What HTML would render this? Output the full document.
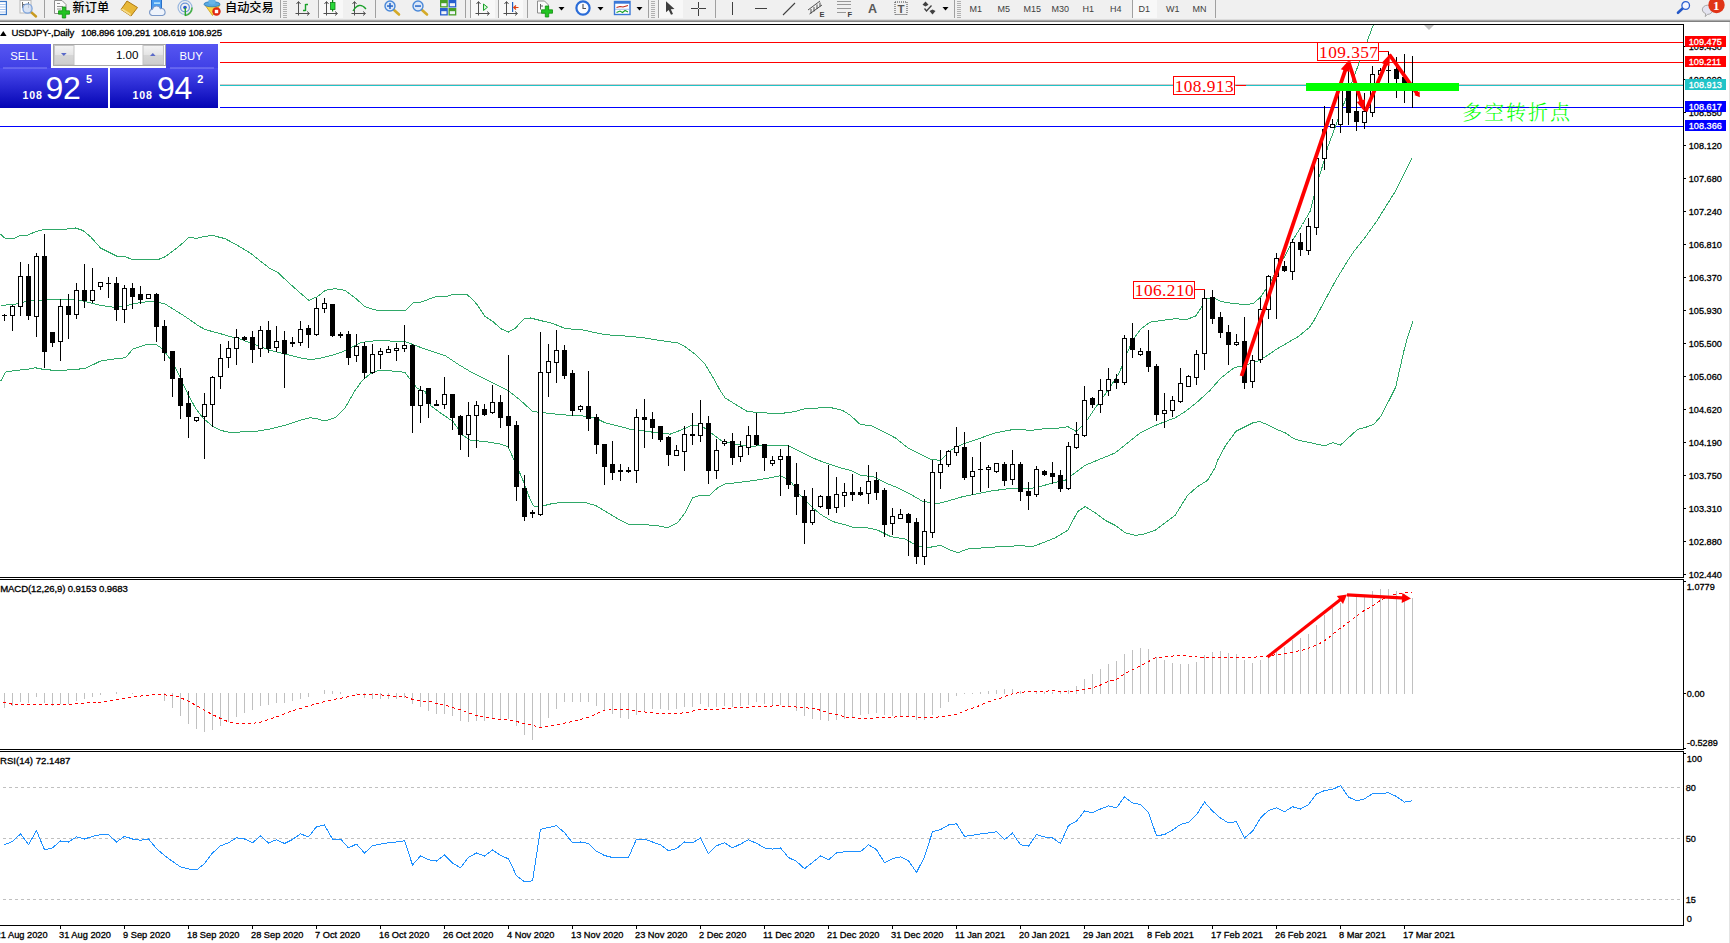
<!DOCTYPE html>
<html><head><meta charset="utf-8"><title>USDJPY Daily</title>
<style>html,body{margin:0;padding:0;background:#fff;overflow:hidden}svg{display:block}text{white-space:pre}</style>
</head><body>
<svg width="1730" height="943" viewBox="0 0 1730 943">
<rect x="0" y="0" width="1730" height="943" fill="#fff"/>
<rect x="0" y="0" width="1730" height="19" fill="#f0f0f0"/>
<rect x="0" y="19" width="1730" height="1" fill="#dcdcdc"/>
<rect x="0" y="20" width="1730" height="1" fill="#a8a8a8"/>
<rect x="0" y="21" width="1730" height="1" fill="#808080"/>
<rect x="1729" y="22" width="1" height="921" fill="#e4e4e4"/>
<g shape-rendering="crispEdges">
<rect x="0" y="24" width="1684" height="1" fill="#000"/>
<rect x="1683" y="24" width="1" height="902" fill="#000"/>
<rect x="0" y="577" width="1684" height="1" fill="#000"/>
<rect x="0" y="579" width="1684" height="1" fill="#000"/>
<rect x="0" y="749" width="1684" height="1" fill="#000"/>
<rect x="0" y="751" width="1684" height="1" fill="#000"/>
<rect x="0" y="925" width="1684" height="1" fill="#000"/>
<rect x="1683" y="578" width="1" height="1" fill="#fff"/>
<rect x="1683" y="750" width="1" height="1" fill="#fff"/>
<line x1="3" y1="787.5" x2="1681" y2="787.5" stroke="#c0c0c0" stroke-width="1" stroke-dasharray="3 3"/>
<line x1="3" y1="838.5" x2="1681" y2="838.5" stroke="#c0c0c0" stroke-width="1" stroke-dasharray="3 3"/>
<line x1="3" y1="899.5" x2="1681" y2="899.5" stroke="#c0c0c0" stroke-width="1" stroke-dasharray="3 3"/>
<rect x="0" y="42" width="1683" height="1" fill="#ff0000"/>
<rect x="0" y="62" width="1683" height="1" fill="#ff0000"/>
<rect x="0" y="84" width="1683" height="1" fill="#d8c8c8"/>
<rect x="0" y="85" width="1683" height="1" fill="#20c4c8"/>
<rect x="0" y="107" width="1683" height="1" fill="#0000ff"/>
<rect x="0" y="126" width="1683" height="1" fill="#0000ff"/>
<polyline points="0.5,234.2 5.5,238.7 13.0,238.7 20.5,235.5 28.0,235.0 35.5,231.7 42.9,229.7 52.9,229.2 65.5,229.2 75.5,228.0 82.9,230.5 90.5,236.7 100.5,248.0 110.5,253.0 117.9,256.7 125.5,256.7 132.8,259.9 145.5,259.9 157.8,259.7 165.3,256.7 175.3,249.2 182.8,243.0 189.0,237.2 196.5,238.5 202.7,236.7 212.7,235.5 225.2,238.7 237.7,245.5 250.2,253.0 262.7,262.9 270.2,268.7 277.7,272.4 287.6,281.7 300.1,292.9 308.9,300.4 317.6,296.6 325.1,290.4 335.1,288.7 345.1,290.4 355.1,297.9 365.0,306.6 375.0,309.9 385.0,310.9 405.2,311.0 412.9,303.0 421.8,301.9 434.7,297.0 446.0,296.8 450.9,295.0 456.6,294.6 462.2,294.0 467.5,295.0 472.8,299.6 477.6,305.3 484.9,316.2 493.8,322.3 501.1,328.8 508.4,332.0 515.5,328.0 524.1,318.7 530.5,318.0 540.5,320.5 552.8,323.5 565.3,328.5 582.8,330.0 605.3,334.7 627.7,336.2 645.2,338.0 660.2,340.5 677.7,343.0 685.2,346.7 695.2,354.2 705.1,364.2 712.6,376.7 720.1,390.4 725.1,397.9 735.1,404.1 747.6,411.6 765.1,412.9 780.1,413.6 795.0,411.6 805.0,408.6 820.0,407.9 830.0,407.4 842.5,410.4 850.5,415.4 860.5,424.7 870.5,425.4 882.9,431.6 895.4,437.9 907.9,447.9 920.4,454.1 930.4,459.1 940.4,460.4 950.4,450.4 962.8,444.1 975.3,439.9 995.3,432.9 1015.3,429.1 1030.3,430.4 1047.7,428.4 1062.7,427.9 1067.7,426.6 1076.5,431.6 1085.2,422.9 1095.2,407.9 1105.2,394.2 1112.7,383.0 1119.7,372.1 1125.4,356.8 1133.0,339.7 1140.7,329.2 1150.2,322.1 1163.5,320.2 1175.0,318.7 1186.5,319.6 1196.0,315.8 1202.7,305.3 1206.5,298.6 1213.2,297.7 1220.8,301.5 1232.3,303.4 1243.7,304.4 1253.2,303.8 1260.9,296.7 1268.2,285.5 1275.8,272.2 1285.4,255.0 1293.0,239.7 1302.5,224.5 1310.2,211.1 1314.0,195.8 1319.7,174.9 1324.5,159.6 1327.7,147.2 1373.2,25.2" fill="none" stroke="#2fa868" stroke-width="1" />
<polyline points="0.5,306.1 8.0,304.6 15.5,304.1 25.5,301.6 35.5,300.4 45.5,299.9 62.9,299.9 75.5,299.1 85.5,301.6 100.5,305.4 112.9,307.1 125.5,305.9 135.5,303.4 147.8,301.6 155.5,301.6 165.3,304.1 175.3,310.4 185.3,316.6 197.8,325.4 205.2,329.6 217.7,332.9 230.2,336.6 240.2,339.1 250.2,342.8 260.2,346.6 270.2,350.3 280.2,352.8 290.1,355.3 300.1,357.8 310.1,359.6 320.1,358.3 330.1,355.8 340.1,352.8 350.1,347.8 360.1,342.8 370.0,341.1 380.0,340.8 395.0,341.1 405.0,341.6 415.0,345.3 425.0,349.1 433.0,351.7 445.5,355.9 458.0,364.2 470.5,371.7 482.9,377.9 495.5,384.2 507.9,390.4 520.5,400.4 532.9,411.6 540.5,412.4 550.5,413.6 570.5,415.4 585.3,416.1 595.3,417.9 605.3,422.9 620.3,426.6 632.7,429.9 645.2,431.1 657.7,432.9 670.2,434.1 680.2,430.4 692.7,424.9 702.6,426.6 712.6,434.1 722.6,441.6 735.1,444.1 750.1,446.6 762.6,445.3 775.1,445.8 787.5,445.3 800.0,451.6 812.5,457.8 825.0,462.8 840.0,467.8 850.5,470.3 860.5,475.3 873.0,476.6 885.4,482.8 897.9,487.8 910.4,494.1 922.9,501.5 937.9,503.5 950.4,500.3 962.8,496.6 975.3,494.1 990.3,491.1 1005.3,489.1 1020.3,487.8 1030.3,488.6 1040.3,486.6 1052.7,482.8 1065.2,480.3 1075.2,472.8 1085.2,465.3 1100.2,459.1 1115.2,452.9 1127.6,442.9 1140.1,432.9 1152.6,426.6 1165.1,421.6 1175.1,417.9 1185.1,411.7 1197.6,401.7 1210.0,390.4 1220.9,378.0 1234.4,367.5 1242.9,365.8 1251.4,363.3 1259.9,360.2 1268.4,354.8 1276.9,348.9 1288.8,342.1 1298.9,336.1 1309.1,327.7 1314.0,320.5 1321.6,306.5 1335.0,281.7 1346.5,262.6 1354.1,251.2 1365.5,236.9 1377.0,220.7 1386.5,205.4 1396.1,190.1 1403.7,174.9 1412.3,157.7" fill="none" stroke="#2fa868" stroke-width="1" />
<polyline points="0.5,381.5 5.5,372.1 15.5,370.3 25.5,369.6 35.5,367.8 45.5,369.8 57.9,370.3 72.9,369.8 85.4,368.3 100.5,361.1 112.9,359.1 125.5,357.8 132.8,349.1 140.3,346.6 147.8,344.1 155.5,344.1 162.8,349.1 172.8,362.8 180.3,377.8 187.8,394.0 195.3,407.8 202.7,417.7 212.7,426.5 220.2,430.2 227.7,432.0 240.2,432.0 255.2,431.5 270.2,429.0 285.1,425.2 300.1,420.2 310.1,417.7 317.6,419.0 325.1,421.0 335.1,417.7 345.1,407.8 355.1,390.3 362.5,380.3 370.0,374.1 377.5,370.8 390.0,370.8 405.0,372.3 412.5,382.8 417.5,388.5 425.0,391.5 430.5,405.4 440.5,412.9 453.0,421.6 462.9,435.3 470.5,440.3 485.5,441.6 500.5,444.1 507.9,446.6 515.4,462.8 522.9,480.3 530.4,500.3 534.1,506.5 540.5,506.5 550.5,504.0 562.8,502.0 582.8,502.0 595.3,505.3 607.8,512.7 620.3,520.2 629.0,524.7 645.2,524.7 657.7,525.7 667.7,527.7 677.7,522.7 685.2,512.7 692.7,497.8 700.1,495.3 708.9,496.0 717.6,487.8 725.1,484.0 740.1,482.3 755.1,480.3 770.1,477.8 780.1,475.8 790.0,480.3 800.0,495.3 810.0,505.3 820.0,514.0 832.5,521.5 845.0,524.7 853.0,527.3 865.5,527.3 878.0,530.3 890.4,536.5 905.4,539.0 917.9,546.5 927.9,547.7 940.4,545.3 950.4,550.2 957.9,552.7 967.8,549.0 985.3,547.7 1002.8,546.5 1020.3,545.7 1032.8,546.5 1042.7,542.8 1055.2,537.8 1067.7,530.3 1077.7,511.5 1085.2,506.5 1095.2,512.8 1105.2,520.3 1115.2,525.3 1125.1,532.8 1135.1,535.3 1142.6,534.5 1155.1,530.3 1165.1,522.8 1175.1,515.3 1187.6,495.3 1197.6,486.6 1207.5,480.3 1215.0,467.8 1217.5,460.5 1226.0,444.8 1236.1,431.2 1244.6,426.9 1253.1,422.7 1259.9,421.5 1268.4,425.2 1276.9,429.5 1285.4,432.9 1293.8,438.8 1302.3,441.0 1312.5,443.1 1324.4,445.9 1332.9,442.7 1340.5,445.1 1348.2,438.0 1357.5,429.5 1365.1,427.5 1373.6,424.4 1380.4,416.8 1387.2,404.0 1395.7,387.1 1399.9,368.4 1404.2,349.7 1408.4,334.4 1413.0,320.9" fill="none" stroke="#2fa868" stroke-width="1" />
<rect x="4" y="314" width="1" height="7" fill="#000"/>
<rect x="2" y="315" width="5" height="1" fill="#000"/>
<rect x="12" y="305" width="1" height="26" fill="#000"/>
<rect x="10" y="306" width="5" height="10" fill="#000"/>
<rect x="11" y="307" width="3" height="8" fill="#fff"/>
<rect x="20" y="262" width="1" height="54" fill="#000"/>
<rect x="18" y="276" width="5" height="31" fill="#000"/>
<rect x="19" y="277" width="3" height="29" fill="#fff"/>
<rect x="28" y="264" width="1" height="56" fill="#000"/>
<rect x="26" y="276" width="5" height="40" fill="#000"/>
<rect x="36" y="253" width="1" height="84" fill="#000"/>
<rect x="34" y="256" width="5" height="61" fill="#000"/>
<rect x="35" y="257" width="3" height="59" fill="#fff"/>
<rect x="44" y="234" width="1" height="134" fill="#000"/>
<rect x="42" y="256" width="5" height="96" fill="#000"/>
<rect x="52" y="332" width="1" height="15" fill="#000"/>
<rect x="50" y="332" width="5" height="11" fill="#000"/>
<rect x="60" y="299" width="1" height="62" fill="#000"/>
<rect x="58" y="306" width="5" height="36" fill="#000"/>
<rect x="59" y="307" width="3" height="34" fill="#fff"/>
<rect x="68" y="294" width="1" height="45" fill="#000"/>
<rect x="66" y="306" width="5" height="9" fill="#000"/>
<rect x="76" y="283" width="1" height="36" fill="#000"/>
<rect x="74" y="290" width="5" height="25" fill="#000"/>
<rect x="75" y="291" width="3" height="23" fill="#fff"/>
<rect x="84" y="264" width="1" height="44" fill="#000"/>
<rect x="82" y="290" width="5" height="11" fill="#000"/>
<rect x="92" y="268" width="1" height="35" fill="#000"/>
<rect x="90" y="290" width="5" height="11" fill="#000"/>
<rect x="91" y="291" width="3" height="9" fill="#fff"/>
<rect x="100" y="282" width="1" height="8" fill="#000"/>
<rect x="98" y="282" width="5" height="5" fill="#000"/>
<rect x="99" y="283" width="3" height="3" fill="#fff"/>
<rect x="108" y="277" width="1" height="21" fill="#000"/>
<rect x="106" y="283" width="5" height="1" fill="#000"/>
<rect x="116" y="277" width="1" height="44" fill="#000"/>
<rect x="114" y="283" width="5" height="27" fill="#000"/>
<rect x="124" y="285" width="1" height="38" fill="#000"/>
<rect x="122" y="288" width="5" height="22" fill="#000"/>
<rect x="123" y="289" width="3" height="20" fill="#fff"/>
<rect x="132" y="283" width="1" height="26" fill="#000"/>
<rect x="130" y="288" width="5" height="9" fill="#000"/>
<rect x="140" y="286" width="1" height="18" fill="#000"/>
<rect x="138" y="294" width="5" height="6" fill="#000"/>
<rect x="148" y="294" width="1" height="5" fill="#000"/>
<rect x="146" y="294" width="5" height="5" fill="#000"/>
<rect x="147" y="295" width="3" height="3" fill="#fff"/>
<rect x="156" y="293" width="1" height="49" fill="#000"/>
<rect x="154" y="294" width="5" height="33" fill="#000"/>
<rect x="164" y="320" width="1" height="41" fill="#000"/>
<rect x="162" y="326" width="5" height="27" fill="#000"/>
<rect x="172" y="351" width="1" height="46" fill="#000"/>
<rect x="170" y="351" width="5" height="28" fill="#000"/>
<rect x="180" y="368" width="1" height="51" fill="#000"/>
<rect x="178" y="378" width="5" height="28" fill="#000"/>
<rect x="188" y="391" width="1" height="47" fill="#000"/>
<rect x="186" y="403" width="5" height="14" fill="#000"/>
<rect x="196" y="417" width="1" height="5" fill="#000"/>
<rect x="194" y="417" width="5" height="4" fill="#000"/>
<rect x="195" y="418" width="3" height="2" fill="#fff"/>
<rect x="204" y="393" width="1" height="66" fill="#000"/>
<rect x="202" y="404" width="5" height="13" fill="#000"/>
<rect x="203" y="405" width="3" height="11" fill="#fff"/>
<rect x="212" y="376" width="1" height="51" fill="#000"/>
<rect x="210" y="377" width="5" height="28" fill="#000"/>
<rect x="211" y="378" width="3" height="26" fill="#fff"/>
<rect x="220" y="344" width="1" height="45" fill="#000"/>
<rect x="218" y="358" width="5" height="19" fill="#000"/>
<rect x="219" y="359" width="3" height="17" fill="#fff"/>
<rect x="228" y="341" width="1" height="27" fill="#000"/>
<rect x="226" y="348" width="5" height="10" fill="#000"/>
<rect x="227" y="349" width="3" height="8" fill="#fff"/>
<rect x="236" y="329" width="1" height="36" fill="#000"/>
<rect x="234" y="337" width="5" height="12" fill="#000"/>
<rect x="235" y="338" width="3" height="10" fill="#fff"/>
<rect x="244" y="336" width="1" height="5" fill="#000"/>
<rect x="242" y="337" width="5" height="3" fill="#000"/>
<rect x="252" y="331" width="1" height="32" fill="#000"/>
<rect x="250" y="337" width="5" height="13" fill="#000"/>
<rect x="260" y="326" width="1" height="31" fill="#000"/>
<rect x="258" y="330" width="5" height="19" fill="#000"/>
<rect x="259" y="331" width="3" height="17" fill="#fff"/>
<rect x="268" y="321" width="1" height="32" fill="#000"/>
<rect x="266" y="330" width="5" height="19" fill="#000"/>
<rect x="276" y="326" width="1" height="26" fill="#000"/>
<rect x="274" y="341" width="5" height="7" fill="#000"/>
<rect x="275" y="342" width="3" height="5" fill="#fff"/>
<rect x="284" y="331" width="1" height="57" fill="#000"/>
<rect x="282" y="340" width="5" height="14" fill="#000"/>
<rect x="292" y="337" width="1" height="10" fill="#000"/>
<rect x="290" y="342" width="5" height="2" fill="#000"/>
<rect x="300" y="321" width="1" height="25" fill="#000"/>
<rect x="298" y="329" width="5" height="14" fill="#000"/>
<rect x="299" y="330" width="3" height="12" fill="#fff"/>
<rect x="308" y="325" width="1" height="23" fill="#000"/>
<rect x="306" y="328" width="5" height="7" fill="#000"/>
<rect x="316" y="298" width="1" height="38" fill="#000"/>
<rect x="314" y="308" width="5" height="27" fill="#000"/>
<rect x="315" y="309" width="3" height="25" fill="#fff"/>
<rect x="324" y="298" width="1" height="15" fill="#000"/>
<rect x="322" y="303" width="5" height="6" fill="#000"/>
<rect x="323" y="304" width="3" height="4" fill="#fff"/>
<rect x="332" y="304" width="1" height="33" fill="#000"/>
<rect x="330" y="304" width="5" height="32" fill="#000"/>
<rect x="340" y="332" width="1" height="6" fill="#000"/>
<rect x="338" y="334" width="5" height="2" fill="#000"/>
<rect x="348" y="331" width="1" height="34" fill="#000"/>
<rect x="346" y="334" width="5" height="24" fill="#000"/>
<rect x="356" y="334" width="1" height="28" fill="#000"/>
<rect x="354" y="346" width="5" height="10" fill="#000"/>
<rect x="355" y="347" width="3" height="8" fill="#fff"/>
<rect x="364" y="342" width="1" height="37" fill="#000"/>
<rect x="362" y="346" width="5" height="27" fill="#000"/>
<rect x="372" y="344" width="1" height="30" fill="#000"/>
<rect x="370" y="354" width="5" height="19" fill="#000"/>
<rect x="371" y="355" width="3" height="17" fill="#fff"/>
<rect x="380" y="348" width="1" height="21" fill="#000"/>
<rect x="378" y="351" width="5" height="4" fill="#000"/>
<rect x="379" y="352" width="3" height="2" fill="#fff"/>
<rect x="388" y="346" width="1" height="7" fill="#000"/>
<rect x="386" y="349" width="5" height="4" fill="#000"/>
<rect x="387" y="350" width="3" height="2" fill="#fff"/>
<rect x="396" y="343" width="1" height="18" fill="#000"/>
<rect x="394" y="348" width="5" height="3" fill="#000"/>
<rect x="395" y="349" width="3" height="1" fill="#fff"/>
<rect x="404" y="325" width="1" height="27" fill="#000"/>
<rect x="402" y="345" width="5" height="4" fill="#000"/>
<rect x="403" y="346" width="3" height="2" fill="#fff"/>
<rect x="412" y="344" width="1" height="89" fill="#000"/>
<rect x="410" y="345" width="5" height="61" fill="#000"/>
<rect x="420" y="386" width="1" height="37" fill="#000"/>
<rect x="418" y="390" width="5" height="16" fill="#000"/>
<rect x="419" y="391" width="3" height="14" fill="#fff"/>
<rect x="428" y="388" width="1" height="30" fill="#000"/>
<rect x="426" y="388" width="5" height="16" fill="#000"/>
<rect x="436" y="400" width="1" height="6" fill="#000"/>
<rect x="434" y="404" width="5" height="2" fill="#000"/>
<rect x="444" y="377" width="1" height="32" fill="#000"/>
<rect x="442" y="394" width="5" height="11" fill="#000"/>
<rect x="443" y="395" width="3" height="9" fill="#fff"/>
<rect x="452" y="394" width="1" height="36" fill="#000"/>
<rect x="450" y="394" width="5" height="24" fill="#000"/>
<rect x="460" y="415" width="1" height="35" fill="#000"/>
<rect x="458" y="416" width="5" height="19" fill="#000"/>
<rect x="468" y="402" width="1" height="55" fill="#000"/>
<rect x="466" y="415" width="5" height="20" fill="#000"/>
<rect x="467" y="416" width="3" height="18" fill="#fff"/>
<rect x="476" y="401" width="1" height="47" fill="#000"/>
<rect x="474" y="405" width="5" height="11" fill="#000"/>
<rect x="475" y="406" width="3" height="9" fill="#fff"/>
<rect x="484" y="404" width="1" height="12" fill="#000"/>
<rect x="482" y="409" width="5" height="6" fill="#000"/>
<rect x="492" y="385" width="1" height="29" fill="#000"/>
<rect x="490" y="402" width="5" height="11" fill="#000"/>
<rect x="491" y="403" width="3" height="9" fill="#fff"/>
<rect x="500" y="395" width="1" height="33" fill="#000"/>
<rect x="498" y="402" width="5" height="16" fill="#000"/>
<rect x="508" y="355" width="1" height="93" fill="#000"/>
<rect x="506" y="416" width="5" height="10" fill="#000"/>
<rect x="516" y="421" width="1" height="80" fill="#000"/>
<rect x="514" y="425" width="5" height="62" fill="#000"/>
<rect x="524" y="475" width="1" height="46" fill="#000"/>
<rect x="522" y="488" width="5" height="29" fill="#000"/>
<rect x="532" y="510" width="1" height="8" fill="#000"/>
<rect x="530" y="512" width="5" height="2" fill="#000"/>
<rect x="540" y="332" width="1" height="184" fill="#000"/>
<rect x="538" y="372" width="5" height="143" fill="#000"/>
<rect x="539" y="373" width="3" height="141" fill="#fff"/>
<rect x="548" y="344" width="1" height="53" fill="#000"/>
<rect x="546" y="361" width="5" height="12" fill="#000"/>
<rect x="547" y="362" width="3" height="10" fill="#fff"/>
<rect x="556" y="330" width="1" height="53" fill="#000"/>
<rect x="554" y="350" width="5" height="13" fill="#000"/>
<rect x="555" y="351" width="3" height="11" fill="#fff"/>
<rect x="564" y="345" width="1" height="34" fill="#000"/>
<rect x="562" y="350" width="5" height="26" fill="#000"/>
<rect x="572" y="370" width="1" height="46" fill="#000"/>
<rect x="570" y="373" width="5" height="38" fill="#000"/>
<rect x="580" y="405" width="1" height="7" fill="#000"/>
<rect x="578" y="406" width="5" height="4" fill="#000"/>
<rect x="579" y="407" width="3" height="2" fill="#fff"/>
<rect x="588" y="371" width="1" height="60" fill="#000"/>
<rect x="586" y="406" width="5" height="13" fill="#000"/>
<rect x="596" y="414" width="1" height="40" fill="#000"/>
<rect x="594" y="417" width="5" height="28" fill="#000"/>
<rect x="604" y="444" width="1" height="41" fill="#000"/>
<rect x="602" y="444" width="5" height="23" fill="#000"/>
<rect x="612" y="441" width="1" height="39" fill="#000"/>
<rect x="610" y="464" width="5" height="9" fill="#000"/>
<rect x="620" y="464" width="1" height="17" fill="#000"/>
<rect x="618" y="470" width="5" height="2" fill="#000"/>
<rect x="628" y="467" width="1" height="6" fill="#000"/>
<rect x="626" y="470" width="5" height="2" fill="#000"/>
<rect x="636" y="409" width="1" height="74" fill="#000"/>
<rect x="634" y="417" width="5" height="54" fill="#000"/>
<rect x="635" y="418" width="3" height="52" fill="#fff"/>
<rect x="644" y="399" width="1" height="49" fill="#000"/>
<rect x="642" y="417" width="5" height="3" fill="#000"/>
<rect x="652" y="412" width="1" height="27" fill="#000"/>
<rect x="650" y="419" width="5" height="9" fill="#000"/>
<rect x="660" y="426" width="1" height="16" fill="#000"/>
<rect x="658" y="426" width="5" height="14" fill="#000"/>
<rect x="668" y="436" width="1" height="30" fill="#000"/>
<rect x="666" y="437" width="5" height="18" fill="#000"/>
<rect x="676" y="445" width="1" height="11" fill="#000"/>
<rect x="674" y="450" width="5" height="6" fill="#000"/>
<rect x="675" y="451" width="3" height="4" fill="#fff"/>
<rect x="684" y="426" width="1" height="45" fill="#000"/>
<rect x="682" y="434" width="5" height="18" fill="#000"/>
<rect x="683" y="435" width="3" height="16" fill="#fff"/>
<rect x="692" y="413" width="1" height="32" fill="#000"/>
<rect x="690" y="434" width="5" height="2" fill="#000"/>
<rect x="700" y="400" width="1" height="42" fill="#000"/>
<rect x="698" y="423" width="5" height="13" fill="#000"/>
<rect x="699" y="424" width="3" height="11" fill="#fff"/>
<rect x="708" y="416" width="1" height="68" fill="#000"/>
<rect x="706" y="423" width="5" height="48" fill="#000"/>
<rect x="716" y="439" width="1" height="40" fill="#000"/>
<rect x="714" y="450" width="5" height="21" fill="#000"/>
<rect x="715" y="451" width="3" height="19" fill="#fff"/>
<rect x="724" y="439" width="1" height="7" fill="#000"/>
<rect x="722" y="441" width="5" height="3" fill="#000"/>
<rect x="723" y="442" width="3" height="1" fill="#fff"/>
<rect x="732" y="433" width="1" height="32" fill="#000"/>
<rect x="730" y="441" width="5" height="17" fill="#000"/>
<rect x="740" y="441" width="1" height="21" fill="#000"/>
<rect x="738" y="446" width="5" height="11" fill="#000"/>
<rect x="739" y="447" width="3" height="9" fill="#fff"/>
<rect x="748" y="426" width="1" height="29" fill="#000"/>
<rect x="746" y="435" width="5" height="13" fill="#000"/>
<rect x="747" y="436" width="3" height="11" fill="#fff"/>
<rect x="756" y="413" width="1" height="33" fill="#000"/>
<rect x="754" y="435" width="5" height="10" fill="#000"/>
<rect x="764" y="444" width="1" height="27" fill="#000"/>
<rect x="762" y="444" width="5" height="14" fill="#000"/>
<rect x="772" y="456" width="1" height="10" fill="#000"/>
<rect x="770" y="460" width="5" height="4" fill="#000"/>
<rect x="771" y="461" width="3" height="2" fill="#fff"/>
<rect x="780" y="449" width="1" height="47" fill="#000"/>
<rect x="778" y="456" width="5" height="4" fill="#000"/>
<rect x="779" y="457" width="3" height="2" fill="#fff"/>
<rect x="788" y="445" width="1" height="44" fill="#000"/>
<rect x="786" y="456" width="5" height="29" fill="#000"/>
<rect x="796" y="463" width="1" height="52" fill="#000"/>
<rect x="794" y="484" width="5" height="13" fill="#000"/>
<rect x="804" y="490" width="1" height="54" fill="#000"/>
<rect x="802" y="496" width="5" height="27" fill="#000"/>
<rect x="812" y="488" width="1" height="37" fill="#000"/>
<rect x="810" y="510" width="5" height="13" fill="#000"/>
<rect x="811" y="511" width="3" height="11" fill="#fff"/>
<rect x="820" y="495" width="1" height="13" fill="#000"/>
<rect x="818" y="496" width="5" height="11" fill="#000"/>
<rect x="819" y="497" width="3" height="9" fill="#fff"/>
<rect x="828" y="465" width="1" height="50" fill="#000"/>
<rect x="826" y="496" width="5" height="13" fill="#000"/>
<rect x="836" y="477" width="1" height="36" fill="#000"/>
<rect x="834" y="494" width="5" height="14" fill="#000"/>
<rect x="835" y="495" width="3" height="12" fill="#fff"/>
<rect x="844" y="483" width="1" height="24" fill="#000"/>
<rect x="842" y="492" width="5" height="4" fill="#000"/>
<rect x="843" y="493" width="3" height="2" fill="#fff"/>
<rect x="852" y="474" width="1" height="27" fill="#000"/>
<rect x="850" y="492" width="5" height="3" fill="#000"/>
<rect x="860" y="487" width="1" height="9" fill="#000"/>
<rect x="858" y="492" width="5" height="3" fill="#000"/>
<rect x="868" y="465" width="1" height="39" fill="#000"/>
<rect x="866" y="481" width="5" height="13" fill="#000"/>
<rect x="867" y="482" width="3" height="11" fill="#fff"/>
<rect x="876" y="472" width="1" height="28" fill="#000"/>
<rect x="874" y="480" width="5" height="13" fill="#000"/>
<rect x="884" y="488" width="1" height="49" fill="#000"/>
<rect x="882" y="490" width="5" height="35" fill="#000"/>
<rect x="892" y="508" width="1" height="27" fill="#000"/>
<rect x="890" y="516" width="5" height="8" fill="#000"/>
<rect x="891" y="517" width="3" height="6" fill="#fff"/>
<rect x="900" y="509" width="1" height="10" fill="#000"/>
<rect x="898" y="514" width="5" height="5" fill="#000"/>
<rect x="899" y="515" width="3" height="3" fill="#fff"/>
<rect x="908" y="513" width="1" height="43" fill="#000"/>
<rect x="906" y="514" width="5" height="9" fill="#000"/>
<rect x="916" y="518" width="1" height="46" fill="#000"/>
<rect x="914" y="522" width="5" height="35" fill="#000"/>
<rect x="924" y="499" width="1" height="66" fill="#000"/>
<rect x="922" y="531" width="5" height="26" fill="#000"/>
<rect x="923" y="532" width="3" height="24" fill="#fff"/>
<rect x="932" y="460" width="1" height="78" fill="#000"/>
<rect x="930" y="472" width="5" height="61" fill="#000"/>
<rect x="931" y="473" width="3" height="59" fill="#fff"/>
<rect x="940" y="450" width="1" height="39" fill="#000"/>
<rect x="938" y="464" width="5" height="9" fill="#000"/>
<rect x="939" y="465" width="3" height="7" fill="#fff"/>
<rect x="948" y="450" width="1" height="17" fill="#000"/>
<rect x="946" y="451" width="5" height="14" fill="#000"/>
<rect x="947" y="452" width="3" height="12" fill="#fff"/>
<rect x="956" y="427" width="1" height="29" fill="#000"/>
<rect x="954" y="446" width="5" height="7" fill="#000"/>
<rect x="955" y="447" width="3" height="5" fill="#fff"/>
<rect x="964" y="432" width="1" height="48" fill="#000"/>
<rect x="962" y="447" width="5" height="31" fill="#000"/>
<rect x="972" y="457" width="1" height="38" fill="#000"/>
<rect x="970" y="471" width="5" height="6" fill="#000"/>
<rect x="971" y="472" width="3" height="4" fill="#fff"/>
<rect x="980" y="442" width="1" height="50" fill="#000"/>
<rect x="978" y="469" width="5" height="1" fill="#000"/>
<rect x="988" y="465" width="1" height="23" fill="#000"/>
<rect x="986" y="467" width="5" height="3" fill="#000"/>
<rect x="987" y="468" width="3" height="1" fill="#fff"/>
<rect x="996" y="463" width="1" height="10" fill="#000"/>
<rect x="994" y="463" width="5" height="9" fill="#000"/>
<rect x="995" y="464" width="3" height="7" fill="#fff"/>
<rect x="1004" y="462" width="1" height="24" fill="#000"/>
<rect x="1002" y="464" width="5" height="17" fill="#000"/>
<rect x="1012" y="450" width="1" height="35" fill="#000"/>
<rect x="1010" y="464" width="5" height="16" fill="#000"/>
<rect x="1011" y="465" width="3" height="14" fill="#fff"/>
<rect x="1020" y="462" width="1" height="39" fill="#000"/>
<rect x="1018" y="464" width="5" height="28" fill="#000"/>
<rect x="1028" y="482" width="1" height="28" fill="#000"/>
<rect x="1026" y="491" width="5" height="5" fill="#000"/>
<rect x="1036" y="466" width="1" height="31" fill="#000"/>
<rect x="1034" y="469" width="5" height="26" fill="#000"/>
<rect x="1035" y="470" width="3" height="24" fill="#fff"/>
<rect x="1044" y="470" width="1" height="6" fill="#000"/>
<rect x="1042" y="471" width="5" height="4" fill="#000"/>
<rect x="1052" y="462" width="1" height="22" fill="#000"/>
<rect x="1050" y="473" width="5" height="4" fill="#000"/>
<rect x="1060" y="470" width="1" height="22" fill="#000"/>
<rect x="1058" y="475" width="5" height="14" fill="#000"/>
<rect x="1068" y="442" width="1" height="48" fill="#000"/>
<rect x="1066" y="446" width="5" height="43" fill="#000"/>
<rect x="1067" y="447" width="3" height="41" fill="#fff"/>
<rect x="1076" y="422" width="1" height="27" fill="#000"/>
<rect x="1074" y="434" width="5" height="14" fill="#000"/>
<rect x="1075" y="435" width="3" height="12" fill="#fff"/>
<rect x="1084" y="386" width="1" height="51" fill="#000"/>
<rect x="1082" y="400" width="5" height="36" fill="#000"/>
<rect x="1083" y="401" width="3" height="34" fill="#fff"/>
<rect x="1092" y="397" width="1" height="11" fill="#000"/>
<rect x="1090" y="398" width="5" height="7" fill="#000"/>
<rect x="1100" y="379" width="1" height="34" fill="#000"/>
<rect x="1098" y="390" width="5" height="15" fill="#000"/>
<rect x="1099" y="391" width="3" height="13" fill="#fff"/>
<rect x="1108" y="368" width="1" height="28" fill="#000"/>
<rect x="1106" y="379" width="5" height="12" fill="#000"/>
<rect x="1107" y="380" width="3" height="10" fill="#fff"/>
<rect x="1116" y="374" width="1" height="15" fill="#000"/>
<rect x="1114" y="379" width="5" height="4" fill="#000"/>
<rect x="1124" y="335" width="1" height="50" fill="#000"/>
<rect x="1122" y="338" width="5" height="45" fill="#000"/>
<rect x="1123" y="339" width="3" height="43" fill="#fff"/>
<rect x="1132" y="323" width="1" height="35" fill="#000"/>
<rect x="1130" y="338" width="5" height="12" fill="#000"/>
<rect x="1140" y="348" width="1" height="8" fill="#000"/>
<rect x="1138" y="351" width="5" height="4" fill="#000"/>
<rect x="1139" y="352" width="3" height="2" fill="#fff"/>
<rect x="1148" y="330" width="1" height="42" fill="#000"/>
<rect x="1146" y="351" width="5" height="16" fill="#000"/>
<rect x="1156" y="364" width="1" height="57" fill="#000"/>
<rect x="1154" y="366" width="5" height="49" fill="#000"/>
<rect x="1164" y="393" width="1" height="35" fill="#000"/>
<rect x="1162" y="410" width="5" height="4" fill="#000"/>
<rect x="1163" y="411" width="3" height="2" fill="#fff"/>
<rect x="1172" y="396" width="1" height="21" fill="#000"/>
<rect x="1170" y="400" width="5" height="11" fill="#000"/>
<rect x="1171" y="401" width="3" height="9" fill="#fff"/>
<rect x="1180" y="368" width="1" height="35" fill="#000"/>
<rect x="1178" y="383" width="5" height="19" fill="#000"/>
<rect x="1179" y="384" width="3" height="17" fill="#fff"/>
<rect x="1188" y="375" width="1" height="12" fill="#000"/>
<rect x="1186" y="376" width="5" height="11" fill="#000"/>
<rect x="1187" y="377" width="3" height="9" fill="#fff"/>
<rect x="1196" y="350" width="1" height="35" fill="#000"/>
<rect x="1194" y="354" width="5" height="24" fill="#000"/>
<rect x="1195" y="355" width="3" height="22" fill="#fff"/>
<rect x="1204" y="289" width="1" height="81" fill="#000"/>
<rect x="1202" y="298" width="5" height="56" fill="#000"/>
<rect x="1203" y="299" width="3" height="54" fill="#fff"/>
<rect x="1212" y="290" width="1" height="34" fill="#000"/>
<rect x="1210" y="297" width="5" height="22" fill="#000"/>
<rect x="1220" y="312" width="1" height="26" fill="#000"/>
<rect x="1218" y="317" width="5" height="16" fill="#000"/>
<rect x="1228" y="325" width="1" height="40" fill="#000"/>
<rect x="1226" y="332" width="5" height="13" fill="#000"/>
<rect x="1236" y="334" width="1" height="12" fill="#000"/>
<rect x="1234" y="342" width="5" height="3" fill="#000"/>
<rect x="1235" y="343" width="3" height="1" fill="#fff"/>
<rect x="1244" y="317" width="1" height="72" fill="#000"/>
<rect x="1242" y="341" width="5" height="42" fill="#000"/>
<rect x="1252" y="355" width="1" height="33" fill="#000"/>
<rect x="1250" y="360" width="5" height="22" fill="#000"/>
<rect x="1251" y="361" width="3" height="20" fill="#fff"/>
<rect x="1260" y="298" width="1" height="65" fill="#000"/>
<rect x="1258" y="309" width="5" height="51" fill="#000"/>
<rect x="1259" y="310" width="3" height="49" fill="#fff"/>
<rect x="1268" y="275" width="1" height="44" fill="#000"/>
<rect x="1266" y="276" width="5" height="34" fill="#000"/>
<rect x="1267" y="277" width="3" height="32" fill="#fff"/>
<rect x="1276" y="253" width="1" height="66" fill="#000"/>
<rect x="1274" y="258" width="5" height="19" fill="#000"/>
<rect x="1275" y="259" width="3" height="17" fill="#fff"/>
<rect x="1284" y="261" width="1" height="11" fill="#000"/>
<rect x="1282" y="266" width="5" height="5" fill="#000"/>
<rect x="1292" y="239" width="1" height="41" fill="#000"/>
<rect x="1290" y="242" width="5" height="30" fill="#000"/>
<rect x="1291" y="243" width="3" height="28" fill="#fff"/>
<rect x="1300" y="233" width="1" height="23" fill="#000"/>
<rect x="1298" y="242" width="5" height="8" fill="#000"/>
<rect x="1308" y="218" width="1" height="37" fill="#000"/>
<rect x="1306" y="226" width="5" height="25" fill="#000"/>
<rect x="1307" y="227" width="3" height="23" fill="#fff"/>
<rect x="1316" y="155" width="1" height="80" fill="#000"/>
<rect x="1314" y="158" width="5" height="70" fill="#000"/>
<rect x="1315" y="159" width="3" height="68" fill="#fff"/>
<rect x="1324" y="106" width="1" height="64" fill="#000"/>
<rect x="1322" y="129" width="5" height="30" fill="#000"/>
<rect x="1323" y="130" width="3" height="28" fill="#fff"/>
<rect x="1332" y="119" width="1" height="9" fill="#000"/>
<rect x="1330" y="124" width="5" height="4" fill="#000"/>
<rect x="1331" y="125" width="3" height="2" fill="#fff"/>
<rect x="1340" y="80" width="1" height="53" fill="#000"/>
<rect x="1338" y="87" width="5" height="38" fill="#000"/>
<rect x="1339" y="88" width="3" height="36" fill="#fff"/>
<rect x="1348" y="62" width="1" height="63" fill="#000"/>
<rect x="1346" y="86" width="5" height="27" fill="#000"/>
<rect x="1356" y="84" width="1" height="47" fill="#000"/>
<rect x="1354" y="111" width="5" height="11" fill="#000"/>
<rect x="1364" y="93" width="1" height="36" fill="#000"/>
<rect x="1362" y="111" width="5" height="12" fill="#000"/>
<rect x="1363" y="112" width="3" height="10" fill="#fff"/>
<rect x="1372" y="66" width="1" height="51" fill="#000"/>
<rect x="1370" y="74" width="5" height="39" fill="#000"/>
<rect x="1371" y="75" width="3" height="37" fill="#fff"/>
<rect x="1380" y="68" width="1" height="7" fill="#000"/>
<rect x="1378" y="70" width="5" height="5" fill="#000"/>
<rect x="1379" y="71" width="3" height="3" fill="#fff"/>
<rect x="1388" y="52" width="1" height="35" fill="#000"/>
<rect x="1386" y="70" width="5" height="1" fill="#000"/>
<rect x="1396" y="57" width="1" height="41" fill="#000"/>
<rect x="1394" y="69" width="5" height="10" fill="#000"/>
<rect x="1404" y="54" width="1" height="49" fill="#000"/>
<rect x="1402" y="77" width="5" height="10" fill="#000"/>
<rect x="1412" y="56" width="1" height="52" fill="#000"/>
<rect x="1410" y="84" width="5" height="3" fill="#000"/>
<rect x="1411" y="85" width="3" height="1" fill="#fff"/>
<rect x="4" y="693" width="1" height="15" fill="#c0c0c0"/>
<rect x="12" y="693" width="1" height="13" fill="#c0c0c0"/>
<rect x="20" y="693" width="1" height="9" fill="#c0c0c0"/>
<rect x="28" y="693" width="1" height="10" fill="#c0c0c0"/>
<rect x="36" y="693" width="1" height="4" fill="#c0c0c0"/>
<rect x="44" y="693" width="1" height="10" fill="#c0c0c0"/>
<rect x="52" y="693" width="1" height="13" fill="#c0c0c0"/>
<rect x="60" y="693" width="1" height="11" fill="#c0c0c0"/>
<rect x="68" y="693" width="1" height="11" fill="#c0c0c0"/>
<rect x="76" y="693" width="1" height="8" fill="#c0c0c0"/>
<rect x="84" y="693" width="1" height="6" fill="#c0c0c0"/>
<rect x="92" y="693" width="1" height="4" fill="#c0c0c0"/>
<rect x="100" y="693" width="1" height="2" fill="#c0c0c0"/>
<rect x="116" y="692" width="1" height="2" fill="#c0c0c0"/>
<rect x="132" y="693" width="1" height="1" fill="#c0c0c0"/>
<rect x="164" y="693" width="1" height="8" fill="#c0c0c0"/>
<rect x="172" y="693" width="1" height="15" fill="#c0c0c0"/>
<rect x="180" y="693" width="1" height="23" fill="#c0c0c0"/>
<rect x="188" y="693" width="1" height="31" fill="#c0c0c0"/>
<rect x="196" y="693" width="1" height="36" fill="#c0c0c0"/>
<rect x="204" y="693" width="1" height="39" fill="#c0c0c0"/>
<rect x="212" y="693" width="1" height="37" fill="#c0c0c0"/>
<rect x="220" y="693" width="1" height="33" fill="#c0c0c0"/>
<rect x="228" y="693" width="1" height="29" fill="#c0c0c0"/>
<rect x="236" y="693" width="1" height="24" fill="#c0c0c0"/>
<rect x="244" y="693" width="1" height="20" fill="#c0c0c0"/>
<rect x="252" y="693" width="1" height="17" fill="#c0c0c0"/>
<rect x="260" y="693" width="1" height="13" fill="#c0c0c0"/>
<rect x="268" y="693" width="1" height="12" fill="#c0c0c0"/>
<rect x="276" y="693" width="1" height="10" fill="#c0c0c0"/>
<rect x="284" y="693" width="1" height="10" fill="#c0c0c0"/>
<rect x="292" y="693" width="1" height="8" fill="#c0c0c0"/>
<rect x="300" y="693" width="1" height="6" fill="#c0c0c0"/>
<rect x="308" y="693" width="1" height="4" fill="#c0c0c0"/>
<rect x="324" y="690" width="1" height="4" fill="#c0c0c0"/>
<rect x="332" y="691" width="1" height="3" fill="#c0c0c0"/>
<rect x="340" y="692" width="1" height="2" fill="#c0c0c0"/>
<rect x="356" y="693" width="1" height="1" fill="#c0c0c0"/>
<rect x="364" y="693" width="1" height="5" fill="#c0c0c0"/>
<rect x="372" y="693" width="1" height="6" fill="#c0c0c0"/>
<rect x="380" y="693" width="1" height="6" fill="#c0c0c0"/>
<rect x="388" y="693" width="1" height="6" fill="#c0c0c0"/>
<rect x="396" y="693" width="1" height="6" fill="#c0c0c0"/>
<rect x="404" y="693" width="1" height="5" fill="#c0c0c0"/>
<rect x="412" y="693" width="1" height="11" fill="#c0c0c0"/>
<rect x="420" y="693" width="1" height="14" fill="#c0c0c0"/>
<rect x="428" y="693" width="1" height="18" fill="#c0c0c0"/>
<rect x="436" y="693" width="1" height="21" fill="#c0c0c0"/>
<rect x="444" y="693" width="1" height="21" fill="#c0c0c0"/>
<rect x="452" y="693" width="1" height="23" fill="#c0c0c0"/>
<rect x="460" y="693" width="1" height="28" fill="#c0c0c0"/>
<rect x="468" y="693" width="1" height="29" fill="#c0c0c0"/>
<rect x="476" y="693" width="1" height="28" fill="#c0c0c0"/>
<rect x="484" y="693" width="1" height="28" fill="#c0c0c0"/>
<rect x="492" y="693" width="1" height="25" fill="#c0c0c0"/>
<rect x="500" y="693" width="1" height="26" fill="#c0c0c0"/>
<rect x="508" y="693" width="1" height="26" fill="#c0c0c0"/>
<rect x="516" y="693" width="1" height="33" fill="#c0c0c0"/>
<rect x="524" y="693" width="1" height="42" fill="#c0c0c0"/>
<rect x="532" y="693" width="1" height="47" fill="#c0c0c0"/>
<rect x="540" y="693" width="1" height="35" fill="#c0c0c0"/>
<rect x="548" y="693" width="1" height="25" fill="#c0c0c0"/>
<rect x="556" y="693" width="1" height="16" fill="#c0c0c0"/>
<rect x="564" y="693" width="1" height="9" fill="#c0c0c0"/>
<rect x="572" y="693" width="1" height="9" fill="#c0c0c0"/>
<rect x="580" y="693" width="1" height="9" fill="#c0c0c0"/>
<rect x="588" y="693" width="1" height="9" fill="#c0c0c0"/>
<rect x="596" y="693" width="1" height="13" fill="#c0c0c0"/>
<rect x="604" y="693" width="1" height="17" fill="#c0c0c0"/>
<rect x="612" y="693" width="1" height="21" fill="#c0c0c0"/>
<rect x="620" y="693" width="1" height="25" fill="#c0c0c0"/>
<rect x="628" y="693" width="1" height="26" fill="#c0c0c0"/>
<rect x="636" y="693" width="1" height="22" fill="#c0c0c0"/>
<rect x="644" y="693" width="1" height="18" fill="#c0c0c0"/>
<rect x="652" y="693" width="1" height="16" fill="#c0c0c0"/>
<rect x="660" y="693" width="1" height="16" fill="#c0c0c0"/>
<rect x="668" y="693" width="1" height="17" fill="#c0c0c0"/>
<rect x="676" y="693" width="1" height="16" fill="#c0c0c0"/>
<rect x="684" y="693" width="1" height="14" fill="#c0c0c0"/>
<rect x="692" y="693" width="1" height="14" fill="#c0c0c0"/>
<rect x="700" y="693" width="1" height="11" fill="#c0c0c0"/>
<rect x="708" y="693" width="1" height="14" fill="#c0c0c0"/>
<rect x="716" y="693" width="1" height="14" fill="#c0c0c0"/>
<rect x="724" y="693" width="1" height="13" fill="#c0c0c0"/>
<rect x="732" y="693" width="1" height="14" fill="#c0c0c0"/>
<rect x="740" y="693" width="1" height="13" fill="#c0c0c0"/>
<rect x="748" y="693" width="1" height="12" fill="#c0c0c0"/>
<rect x="756" y="693" width="1" height="9" fill="#c0c0c0"/>
<rect x="764" y="693" width="1" height="11" fill="#c0c0c0"/>
<rect x="772" y="693" width="1" height="12" fill="#c0c0c0"/>
<rect x="780" y="693" width="1" height="12" fill="#c0c0c0"/>
<rect x="788" y="693" width="1" height="14" fill="#c0c0c0"/>
<rect x="796" y="693" width="1" height="18" fill="#c0c0c0"/>
<rect x="804" y="693" width="1" height="23" fill="#c0c0c0"/>
<rect x="812" y="693" width="1" height="26" fill="#c0c0c0"/>
<rect x="820" y="693" width="1" height="27" fill="#c0c0c0"/>
<rect x="828" y="693" width="1" height="28" fill="#c0c0c0"/>
<rect x="836" y="693" width="1" height="27" fill="#c0c0c0"/>
<rect x="844" y="693" width="1" height="26" fill="#c0c0c0"/>
<rect x="852" y="693" width="1" height="25" fill="#c0c0c0"/>
<rect x="860" y="693" width="1" height="22" fill="#c0c0c0"/>
<rect x="868" y="693" width="1" height="21" fill="#c0c0c0"/>
<rect x="876" y="693" width="1" height="20" fill="#c0c0c0"/>
<rect x="884" y="693" width="1" height="22" fill="#c0c0c0"/>
<rect x="892" y="693" width="1" height="23" fill="#c0c0c0"/>
<rect x="900" y="693" width="1" height="23" fill="#c0c0c0"/>
<rect x="908" y="693" width="1" height="23" fill="#c0c0c0"/>
<rect x="916" y="693" width="1" height="27" fill="#c0c0c0"/>
<rect x="924" y="693" width="1" height="27" fill="#c0c0c0"/>
<rect x="932" y="693" width="1" height="22" fill="#c0c0c0"/>
<rect x="940" y="693" width="1" height="15" fill="#c0c0c0"/>
<rect x="948" y="693" width="1" height="9" fill="#c0c0c0"/>
<rect x="956" y="693" width="1" height="3" fill="#c0c0c0"/>
<rect x="964" y="693" width="1" height="1" fill="#c0c0c0"/>
<rect x="972" y="693" width="1" height="1" fill="#c0c0c0"/>
<rect x="980" y="692" width="1" height="2" fill="#c0c0c0"/>
<rect x="988" y="691" width="1" height="3" fill="#c0c0c0"/>
<rect x="996" y="690" width="1" height="4" fill="#c0c0c0"/>
<rect x="1004" y="689" width="1" height="5" fill="#c0c0c0"/>
<rect x="1012" y="689" width="1" height="5" fill="#c0c0c0"/>
<rect x="1020" y="691" width="1" height="3" fill="#c0c0c0"/>
<rect x="1036" y="692" width="1" height="2" fill="#c0c0c0"/>
<rect x="1044" y="692" width="1" height="2" fill="#c0c0c0"/>
<rect x="1052" y="692" width="1" height="2" fill="#c0c0c0"/>
<rect x="1060" y="692" width="1" height="2" fill="#c0c0c0"/>
<rect x="1068" y="690" width="1" height="4" fill="#c0c0c0"/>
<rect x="1076" y="686" width="1" height="8" fill="#c0c0c0"/>
<rect x="1084" y="679" width="1" height="15" fill="#c0c0c0"/>
<rect x="1092" y="674" width="1" height="20" fill="#c0c0c0"/>
<rect x="1100" y="669" width="1" height="25" fill="#c0c0c0"/>
<rect x="1108" y="664" width="1" height="30" fill="#c0c0c0"/>
<rect x="1116" y="661" width="1" height="33" fill="#c0c0c0"/>
<rect x="1124" y="654" width="1" height="40" fill="#c0c0c0"/>
<rect x="1132" y="650" width="1" height="44" fill="#c0c0c0"/>
<rect x="1140" y="648" width="1" height="46" fill="#c0c0c0"/>
<rect x="1148" y="649" width="1" height="45" fill="#c0c0c0"/>
<rect x="1156" y="657" width="1" height="37" fill="#c0c0c0"/>
<rect x="1164" y="660" width="1" height="34" fill="#c0c0c0"/>
<rect x="1172" y="663" width="1" height="31" fill="#c0c0c0"/>
<rect x="1180" y="664" width="1" height="30" fill="#c0c0c0"/>
<rect x="1188" y="664" width="1" height="30" fill="#c0c0c0"/>
<rect x="1196" y="662" width="1" height="32" fill="#c0c0c0"/>
<rect x="1204" y="655" width="1" height="39" fill="#c0c0c0"/>
<rect x="1212" y="652" width="1" height="42" fill="#c0c0c0"/>
<rect x="1220" y="651" width="1" height="43" fill="#c0c0c0"/>
<rect x="1228" y="653" width="1" height="41" fill="#c0c0c0"/>
<rect x="1236" y="654" width="1" height="40" fill="#c0c0c0"/>
<rect x="1244" y="660" width="1" height="34" fill="#c0c0c0"/>
<rect x="1252" y="663" width="1" height="31" fill="#c0c0c0"/>
<rect x="1260" y="660" width="1" height="34" fill="#c0c0c0"/>
<rect x="1268" y="656" width="1" height="38" fill="#c0c0c0"/>
<rect x="1276" y="652" width="1" height="42" fill="#c0c0c0"/>
<rect x="1284" y="647" width="1" height="47" fill="#c0c0c0"/>
<rect x="1292" y="640" width="1" height="54" fill="#c0c0c0"/>
<rect x="1300" y="638" width="1" height="56" fill="#c0c0c0"/>
<rect x="1308" y="634" width="1" height="60" fill="#c0c0c0"/>
<rect x="1316" y="625" width="1" height="69" fill="#c0c0c0"/>
<rect x="1324" y="615" width="1" height="79" fill="#c0c0c0"/>
<rect x="1332" y="608" width="1" height="86" fill="#c0c0c0"/>
<rect x="1340" y="603" width="1" height="91" fill="#c0c0c0"/>
<rect x="1348" y="595" width="1" height="99" fill="#c0c0c0"/>
<rect x="1356" y="595" width="1" height="99" fill="#c0c0c0"/>
<rect x="1364" y="596" width="1" height="98" fill="#c0c0c0"/>
<rect x="1372" y="591" width="1" height="103" fill="#c0c0c0"/>
<rect x="1380" y="589" width="1" height="105" fill="#c0c0c0"/>
<rect x="1388" y="589" width="1" height="105" fill="#c0c0c0"/>
<rect x="1396" y="591" width="1" height="103" fill="#c0c0c0"/>
<rect x="1404" y="594" width="1" height="100" fill="#c0c0c0"/>
<rect x="1412" y="598" width="1" height="96" fill="#c0c0c0"/>
<polyline points="3.0,702.9 9.0,703.0 11.5,704.0 24.5,704.0 27.5,704.9 70.5,704.9 75.5,703.9 80.5,703.7 84.5,703.0 97.5,702.8 102.3,701.8 122.6,698.9 137.9,696.3 153.2,694.8 165.9,695.0 178.6,696.8 188.8,701.4 199.0,707.0 209.2,712.9 219.3,717.9 229.5,722.3 239.7,724.0 249.9,723.8 260.0,722.3 270.2,719.0 280.4,715.4 290.6,711.3 300.8,708.3 310.9,705.2 321.1,702.4 331.3,699.9 344.0,697.6 356.7,695.0 369.5,694.8 382.2,695.0 392.4,696.3 405.1,696.8 412.7,699.4 422.9,701.1 430.5,701.5 438.1,704.1 445.8,705.4 453.4,707.9 461.0,709.7 468.6,713.0 476.3,715.5 483.9,716.8 494.1,718.6 506.8,719.8 514.4,720.6 522.1,723.2 532.2,725.2 541.1,727.5 550.0,725.7 560.2,723.9 570.4,721.9 583.1,718.8 593.3,715.5 603.4,710.4 608.5,709.2 621.2,709.2 634.0,710.4 646.7,712.2 659.4,713.7 674.6,713.7 687.4,712.5 697.5,709.9 710.3,709.7 723.0,708.7 735.7,707.9 748.4,707.1 761.1,706.6 773.8,705.9 786.6,706.1 796.7,707.1 806.9,707.9 817.1,709.2 827.2,712.5 837.4,714.8 847.6,717.3 860.5,718.4 878.3,717.9 891.0,717.1 911.4,716.6 924.1,717.9 936.8,717.1 947.0,715.9 957.1,714.1 967.3,710.0 977.5,706.5 987.7,701.9 1000.4,698.1 1010.5,694.3 1020.7,692.2 1038.5,691.2 1053.8,690.9 1069.0,691.7 1081.8,689.9 1091.9,687.9 1099.6,685.4 1107.2,682.0 1117.4,679.0 1125.0,673.4 1135.2,668.3 1145.3,663.2 1155.5,657.9 1165.7,656.9 1175.9,655.6 1191.1,656.1 1203.8,657.9 1221.6,657.9 1242.0,657.4 1263.4,656.8 1268.6,655.5 1276.4,654.8 1286.7,653.5 1294.5,651.6 1304.8,649.7 1312.6,646.4 1317.8,644.5 1324.2,641.0 1330.7,636.1 1335.9,631.5 1341.1,627.7 1347.5,623.1 1354.0,618.0 1360.5,612.8 1366.9,608.9 1372.1,606.3 1377.3,602.4 1382.5,599.2 1387.6,597.9 1392.8,595.3 1398.0,593.4 1403.2,593.0 1412.5,592.7" fill="none" stroke="#ff0000" stroke-width="1" stroke-dasharray="3 3"/>
<polyline points="4.5,844.6 12.5,841.5 20.5,833.9 28.5,844.6 36.5,830.8 44.5,849.7 52.5,847.9 60.5,841.0 68.5,842.0 76.5,836.9 84.5,839.0 92.5,836.4 100.5,834.6 108.5,834.6 116.5,842.0 124.5,836.4 132.5,839.0 140.5,840.2 148.5,839.0 156.5,848.6 164.5,855.5 172.5,861.4 180.5,866.9 188.5,869.0 196.5,870.0 204.5,863.6 212.5,853.0 220.5,845.8 228.5,842.8 236.5,837.7 244.5,839.0 252.5,842.8 260.5,835.9 268.5,843.0 276.5,839.7 284.5,843.5 292.5,839.5 300.5,833.9 308.5,836.9 316.5,826.8 324.5,825.0 332.5,839.0 340.5,839.0 348.5,847.9 356.5,844.1 364.5,853.0 372.5,845.8 380.5,844.1 388.5,842.8 396.5,842.0 404.5,840.7 412.5,864.9 420.5,856.0 428.5,859.8 436.5,861.1 444.5,855.0 452.5,863.1 460.5,867.7 468.5,857.3 476.5,853.0 484.5,856.0 492.5,849.9 500.5,855.5 508.5,858.8 516.5,875.8 524.5,881.7 532.5,880.9 540.5,829.3 548.5,827.5 556.5,825.7 564.5,832.6 572.5,842.8 580.5,842.0 588.5,843.5 596.5,851.2 604.5,855.5 612.5,857.5 620.5,857.5 628.5,857.5 636.5,839.0 644.5,839.0 652.5,842.0 660.5,844.8 668.5,850.7 676.5,848.6 684.5,842.0 692.5,842.8 700.5,838.0 708.5,853.7 716.5,845.8 724.5,842.8 732.5,847.9 740.5,844.1 748.5,839.7 756.5,843.3 764.5,847.9 772.5,849.1 780.5,847.9 788.5,857.5 796.5,861.4 804.5,868.7 812.5,862.4 820.5,856.0 828.5,859.8 836.5,853.0 844.5,851.7 852.5,851.7 860.5,851.7 868.5,844.8 876.5,849.7 884.5,862.6 892.5,858.6 900.5,856.8 908.5,860.6 916.5,872.5 924.5,856.8 932.5,831.8 940.5,829.6 948.5,825.0 956.5,823.7 964.5,836.4 972.5,835.2 980.5,833.9 988.5,832.9 996.5,831.8 1004.5,839.7 1012.5,833.1 1020.5,844.8 1028.5,846.1 1036.5,834.6 1044.5,836.9 1052.5,838.0 1060.5,843.5 1068.5,825.5 1076.5,821.2 1084.5,811.0 1092.5,812.8 1100.5,809.0 1108.5,805.9 1116.5,807.7 1124.5,797.0 1132.5,802.9 1140.5,804.6 1148.5,812.8 1156.5,835.7 1164.5,834.6 1172.5,830.1 1180.5,824.5 1188.5,822.4 1196.5,814.8 1204.5,802.1 1212.5,811.0 1220.5,818.1 1228.5,822.9 1236.5,821.7 1244.5,838.0 1252.5,831.3 1260.5,817.9 1268.5,810.5 1276.5,807.7 1284.5,811.8 1292.5,806.7 1300.5,809.0 1308.5,804.6 1316.5,794.0 1324.5,790.6 1332.5,789.4 1340.5,785.6 1348.5,797.0 1356.5,800.8 1364.5,798.8 1372.5,793.7 1380.5,793.7 1388.5,792.7 1396.5,796.5 1404.5,802.1 1412.5,800.8" fill="none" stroke="#1e90ff" stroke-width="1" />
<rect x="1684" y="46" width="2" height="1" fill="#000"/>
<rect x="1684" y="79" width="2" height="1" fill="#000"/>
<rect x="1684" y="112" width="2" height="1" fill="#000"/>
<rect x="1684" y="145" width="2" height="1" fill="#000"/>
<rect x="1684" y="178" width="2" height="1" fill="#000"/>
<rect x="1684" y="211" width="2" height="1" fill="#000"/>
<rect x="1684" y="244" width="2" height="1" fill="#000"/>
<rect x="1684" y="277" width="2" height="1" fill="#000"/>
<rect x="1684" y="310" width="2" height="1" fill="#000"/>
<rect x="1684" y="343" width="2" height="1" fill="#000"/>
<rect x="1684" y="376" width="2" height="1" fill="#000"/>
<rect x="1684" y="409" width="2" height="1" fill="#000"/>
<rect x="1684" y="442" width="2" height="1" fill="#000"/>
<rect x="1684" y="475" width="2" height="1" fill="#000"/>
<rect x="1684" y="508" width="2" height="1" fill="#000"/>
<rect x="1684" y="541" width="2" height="1" fill="#000"/>
<rect x="1684" y="574" width="2" height="1" fill="#000"/>
<rect x="1684" y="581" width="2" height="1" fill="#000"/>
<rect x="1684" y="693" width="2" height="1" fill="#000"/>
<rect x="1684" y="748" width="2" height="1" fill="#000"/>
<rect x="1684" y="753" width="2" height="1" fill="#000"/>
<rect x="60" y="926" width="1" height="3" fill="#000"/>
<rect x="124" y="926" width="1" height="3" fill="#000"/>
<rect x="188" y="926" width="1" height="3" fill="#000"/>
<rect x="252" y="926" width="1" height="3" fill="#000"/>
<rect x="316" y="926" width="1" height="3" fill="#000"/>
<rect x="380" y="926" width="1" height="3" fill="#000"/>
<rect x="444" y="926" width="1" height="3" fill="#000"/>
<rect x="508" y="926" width="1" height="3" fill="#000"/>
<rect x="572" y="926" width="1" height="3" fill="#000"/>
<rect x="636" y="926" width="1" height="3" fill="#000"/>
<rect x="700" y="926" width="1" height="3" fill="#000"/>
<rect x="764" y="926" width="1" height="3" fill="#000"/>
<rect x="828" y="926" width="1" height="3" fill="#000"/>
<rect x="892" y="926" width="1" height="3" fill="#000"/>
<rect x="956" y="926" width="1" height="3" fill="#000"/>
<rect x="1020" y="926" width="1" height="3" fill="#000"/>
<rect x="1084" y="926" width="1" height="3" fill="#000"/>
<rect x="1148" y="926" width="1" height="3" fill="#000"/>
<rect x="1212" y="926" width="1" height="3" fill="#000"/>
<rect x="1276" y="926" width="1" height="3" fill="#000"/>
<rect x="1340" y="926" width="1" height="3" fill="#000"/>
<rect x="1404" y="926" width="1" height="3" fill="#000"/>
</g>
<text x="1688.8" y="49.9" font-size="9.15" fill="#000" stroke="#000" stroke-width="0.3" text-anchor="start" font-family="Liberation Sans, sans-serif" >109.430</text>
<text x="1688.8" y="82.9" font-size="9.15" fill="#000" stroke="#000" stroke-width="0.3" text-anchor="start" font-family="Liberation Sans, sans-serif" >108.990</text>
<text x="1688.8" y="115.9" font-size="9.15" fill="#000" stroke="#000" stroke-width="0.3" text-anchor="start" font-family="Liberation Sans, sans-serif" >108.550</text>
<text x="1688.8" y="148.9" font-size="9.15" fill="#000" stroke="#000" stroke-width="0.3" text-anchor="start" font-family="Liberation Sans, sans-serif" >108.120</text>
<text x="1688.8" y="181.9" font-size="9.15" fill="#000" stroke="#000" stroke-width="0.3" text-anchor="start" font-family="Liberation Sans, sans-serif" >107.680</text>
<text x="1688.8" y="214.9" font-size="9.15" fill="#000" stroke="#000" stroke-width="0.3" text-anchor="start" font-family="Liberation Sans, sans-serif" >107.240</text>
<text x="1688.8" y="247.9" font-size="9.15" fill="#000" stroke="#000" stroke-width="0.3" text-anchor="start" font-family="Liberation Sans, sans-serif" >106.810</text>
<text x="1688.8" y="280.9" font-size="9.15" fill="#000" stroke="#000" stroke-width="0.3" text-anchor="start" font-family="Liberation Sans, sans-serif" >106.370</text>
<text x="1688.8" y="313.9" font-size="9.15" fill="#000" stroke="#000" stroke-width="0.3" text-anchor="start" font-family="Liberation Sans, sans-serif" >105.930</text>
<text x="1688.8" y="346.9" font-size="9.15" fill="#000" stroke="#000" stroke-width="0.3" text-anchor="start" font-family="Liberation Sans, sans-serif" >105.500</text>
<text x="1688.8" y="379.9" font-size="9.15" fill="#000" stroke="#000" stroke-width="0.3" text-anchor="start" font-family="Liberation Sans, sans-serif" >105.060</text>
<text x="1688.8" y="412.9" font-size="9.15" fill="#000" stroke="#000" stroke-width="0.3" text-anchor="start" font-family="Liberation Sans, sans-serif" >104.620</text>
<text x="1688.8" y="445.9" font-size="9.15" fill="#000" stroke="#000" stroke-width="0.3" text-anchor="start" font-family="Liberation Sans, sans-serif" >104.190</text>
<text x="1688.8" y="478.9" font-size="9.15" fill="#000" stroke="#000" stroke-width="0.3" text-anchor="start" font-family="Liberation Sans, sans-serif" >103.750</text>
<text x="1688.8" y="511.9" font-size="9.15" fill="#000" stroke="#000" stroke-width="0.3" text-anchor="start" font-family="Liberation Sans, sans-serif" >103.310</text>
<text x="1688.8" y="544.9" font-size="9.15" fill="#000" stroke="#000" stroke-width="0.3" text-anchor="start" font-family="Liberation Sans, sans-serif" >102.880</text>
<text x="1688.8" y="577.9" font-size="9.15" fill="#000" stroke="#000" stroke-width="0.3" text-anchor="start" font-family="Liberation Sans, sans-serif" >102.440</text>
<text x="1686.8" y="590" font-size="9.15" fill="#000" stroke="#000" stroke-width="0.3" text-anchor="start" font-family="Liberation Sans, sans-serif" >1.0779</text>
<text x="1686.8" y="696.7" font-size="9.15" fill="#000" stroke="#000" stroke-width="0.3" text-anchor="start" font-family="Liberation Sans, sans-serif" >0.00</text>
<text x="1686.9" y="745.8" font-size="9.15" fill="#000" stroke="#000" stroke-width="0.3" text-anchor="start" font-family="Liberation Sans, sans-serif" >-0.5289</text>
<text x="1686.8" y="761.7" font-size="9.15" fill="#000" stroke="#000" stroke-width="0.3" text-anchor="start" font-family="Liberation Sans, sans-serif" >100</text>
<text x="1685.8" y="790.8" font-size="9.15" fill="#000" stroke="#000" stroke-width="0.3" text-anchor="start" font-family="Liberation Sans, sans-serif" >80</text>
<text x="1685.8" y="841.8" font-size="9.15" fill="#000" stroke="#000" stroke-width="0.3" text-anchor="start" font-family="Liberation Sans, sans-serif" >50</text>
<text x="1685.8" y="902.8" font-size="9.15" fill="#000" stroke="#000" stroke-width="0.3" text-anchor="start" font-family="Liberation Sans, sans-serif" >15</text>
<text x="1686.8" y="921.6" font-size="9.15" fill="#000" stroke="#000" stroke-width="0.3" text-anchor="start" font-family="Liberation Sans, sans-serif" >0</text>
<text x="-4.4" y="938" font-size="9.25" fill="#000" stroke="#000" stroke-width="0.3" text-anchor="start" font-family="Liberation Sans, sans-serif" >21 Aug 2020</text>
<text x="59" y="938" font-size="9.25" fill="#000" stroke="#000" stroke-width="0.3" text-anchor="start" font-family="Liberation Sans, sans-serif" >31 Aug 2020</text>
<text x="123" y="938" font-size="9.25" fill="#000" stroke="#000" stroke-width="0.3" text-anchor="start" font-family="Liberation Sans, sans-serif" >9 Sep 2020</text>
<text x="187" y="938" font-size="9.25" fill="#000" stroke="#000" stroke-width="0.3" text-anchor="start" font-family="Liberation Sans, sans-serif" >18 Sep 2020</text>
<text x="251" y="938" font-size="9.25" fill="#000" stroke="#000" stroke-width="0.3" text-anchor="start" font-family="Liberation Sans, sans-serif" >28 Sep 2020</text>
<text x="315" y="938" font-size="9.25" fill="#000" stroke="#000" stroke-width="0.3" text-anchor="start" font-family="Liberation Sans, sans-serif" >7 Oct 2020</text>
<text x="379" y="938" font-size="9.25" fill="#000" stroke="#000" stroke-width="0.3" text-anchor="start" font-family="Liberation Sans, sans-serif" >16 Oct 2020</text>
<text x="443" y="938" font-size="9.25" fill="#000" stroke="#000" stroke-width="0.3" text-anchor="start" font-family="Liberation Sans, sans-serif" >26 Oct 2020</text>
<text x="507" y="938" font-size="9.25" fill="#000" stroke="#000" stroke-width="0.3" text-anchor="start" font-family="Liberation Sans, sans-serif" >4 Nov 2020</text>
<text x="571" y="938" font-size="9.25" fill="#000" stroke="#000" stroke-width="0.3" text-anchor="start" font-family="Liberation Sans, sans-serif" >13 Nov 2020</text>
<text x="635" y="938" font-size="9.25" fill="#000" stroke="#000" stroke-width="0.3" text-anchor="start" font-family="Liberation Sans, sans-serif" >23 Nov 2020</text>
<text x="699" y="938" font-size="9.25" fill="#000" stroke="#000" stroke-width="0.3" text-anchor="start" font-family="Liberation Sans, sans-serif" >2 Dec 2020</text>
<text x="763" y="938" font-size="9.25" fill="#000" stroke="#000" stroke-width="0.3" text-anchor="start" font-family="Liberation Sans, sans-serif" >11 Dec 2020</text>
<text x="827" y="938" font-size="9.25" fill="#000" stroke="#000" stroke-width="0.3" text-anchor="start" font-family="Liberation Sans, sans-serif" >21 Dec 2020</text>
<text x="891" y="938" font-size="9.25" fill="#000" stroke="#000" stroke-width="0.3" text-anchor="start" font-family="Liberation Sans, sans-serif" >31 Dec 2020</text>
<text x="955" y="938" font-size="9.25" fill="#000" stroke="#000" stroke-width="0.3" text-anchor="start" font-family="Liberation Sans, sans-serif" >11 Jan 2021</text>
<text x="1019" y="938" font-size="9.25" fill="#000" stroke="#000" stroke-width="0.3" text-anchor="start" font-family="Liberation Sans, sans-serif" >20 Jan 2021</text>
<text x="1083" y="938" font-size="9.25" fill="#000" stroke="#000" stroke-width="0.3" text-anchor="start" font-family="Liberation Sans, sans-serif" >29 Jan 2021</text>
<text x="1147" y="938" font-size="9.25" fill="#000" stroke="#000" stroke-width="0.3" text-anchor="start" font-family="Liberation Sans, sans-serif" >8 Feb 2021</text>
<text x="1211" y="938" font-size="9.25" fill="#000" stroke="#000" stroke-width="0.3" text-anchor="start" font-family="Liberation Sans, sans-serif" >17 Feb 2021</text>
<text x="1275" y="938" font-size="9.25" fill="#000" stroke="#000" stroke-width="0.3" text-anchor="start" font-family="Liberation Sans, sans-serif" >26 Feb 2021</text>
<text x="1339" y="938" font-size="9.25" fill="#000" stroke="#000" stroke-width="0.3" text-anchor="start" font-family="Liberation Sans, sans-serif" >8 Mar 2021</text>
<text x="1403" y="938" font-size="9.25" fill="#000" stroke="#000" stroke-width="0.3" text-anchor="start" font-family="Liberation Sans, sans-serif" >17 Mar 2021</text>
<rect x="1685" y="36" width="41" height="11" fill="#ff0000" shape-rendering="crispEdges"/>
<text x="1688.8" y="45.1" font-size="9.15" fill="#fff" stroke="#fff" stroke-width="0.3" text-anchor="start" font-family="Liberation Sans, sans-serif" >109.475</text>
<rect x="1685" y="56" width="41" height="11" fill="#ff0000" shape-rendering="crispEdges"/>
<text x="1688.8" y="65.1" font-size="9.15" fill="#fff" stroke="#fff" stroke-width="0.3" text-anchor="start" font-family="Liberation Sans, sans-serif" >109.211</text>
<rect x="1685" y="79" width="41" height="11" fill="#20c4c8" shape-rendering="crispEdges"/>
<text x="1688.8" y="88.1" font-size="9.15" fill="#fff" stroke="#fff" stroke-width="0.3" text-anchor="start" font-family="Liberation Sans, sans-serif" >108.913</text>
<rect x="1685" y="101" width="41" height="11" fill="#0000ff" shape-rendering="crispEdges"/>
<text x="1688.8" y="110.1" font-size="9.15" fill="#fff" stroke="#fff" stroke-width="0.3" text-anchor="start" font-family="Liberation Sans, sans-serif" >108.617</text>
<rect x="1685" y="120" width="41" height="11" fill="#0000ff" shape-rendering="crispEdges"/>
<text x="1688.8" y="129.1" font-size="9.15" fill="#fff" stroke="#fff" stroke-width="0.3" text-anchor="start" font-family="Liberation Sans, sans-serif" >108.366</text>
<text x="0.2" y="591.5" font-size="9.6" fill="#000" stroke="#000" stroke-width="0.3" text-anchor="start" font-family="Liberation Sans, sans-serif" textLength="127.6" lengthAdjust="spacing">MACD(12,26,9) 0.9153 0.9683</text>
<text x="0" y="763.5" font-size="9.6" fill="#000" stroke="#000" stroke-width="0.3" text-anchor="start" font-family="Liberation Sans, sans-serif" >RSI(14) 72.1487</text>
<line x1="1241.5" y1="376.0" x2="1346.5" y2="66.7" stroke="#ff0000" stroke-width="3.8" stroke-linecap="butt"/>
<polygon points="1348.5,60.7 1349.5,72.1 1340.8,69.2" fill="#ff0000"/>
<line x1="1348.5" y1="61.5" x2="1362.3" y2="105.0" stroke="#ff0000" stroke-width="3.8" stroke-linecap="butt"/>
<polygon points="1364.4,111.6 1356.7,102.0 1365.1,99.3" fill="#ff0000"/>
<line x1="1365.6" y1="111.3" x2="1387.3" y2="60.3" stroke="#ff0000" stroke-width="3.8" stroke-linecap="butt"/>
<polygon points="1390.0,54.0 1389.4,66.2 1381.6,62.9" fill="#ff0000"/>
<line x1="1389.3" y1="54.5" x2="1418.1" y2="94.8" stroke="#ff0000" stroke-width="3.8" stroke-linecap="butt"/>
<polygon points="1419.8,97.2 1414.3,95.0 1419.5,91.3" fill="#ff0000"/>
<line x1="1267.5" y1="657.0" x2="1342.8" y2="597.8" stroke="#ff0000" stroke-width="3.2" stroke-linecap="butt"/>
<polygon points="1347.0,594.5 1343.0,604.0 1336.8,596.1" fill="#ff0000"/>
<line x1="1347.0" y1="594.8" x2="1405.6" y2="598.1" stroke="#ff0000" stroke-width="3.2" stroke-linecap="butt"/>
<polygon points="1411.0,598.4 1401.7,602.9 1402.3,592.9" fill="#ff0000"/>
<rect x="1306" y="83" width="153" height="8" fill="#00ff00" shape-rendering="crispEdges"/>
<rect x="1173.5" y="76.5" width="61" height="18" fill="#fff" stroke="#ff0000" stroke-width="1" shape-rendering="crispEdges"/>
<text x="1174.7" y="92" font-size="17.3" fill="#ff0000"  text-anchor="start" font-family="Liberation Serif, serif" letter-spacing="0.45">108.913</text>
<rect x="1236" y="85" width="10" height="1" fill="#ff0000" shape-rendering="crispEdges"/>
<rect x="1317.5" y="42.5" width="61" height="18" fill="#fff" stroke="#ff0000" stroke-width="1" shape-rendering="crispEdges"/>
<text x="1319.1" y="57.8" font-size="17.3" fill="#ff0000"  text-anchor="start" font-family="Liberation Serif, serif" letter-spacing="0.45">109.357</text>
<rect x="1379" y="51" width="10" height="1" fill="#ff0000" shape-rendering="crispEdges"/>
<rect x="1133.5" y="281.5" width="61" height="17" fill="#fff" stroke="#ff0000" stroke-width="1" shape-rendering="crispEdges"/>
<text x="1134.8" y="295.8" font-size="17.3" fill="#ff0000"  text-anchor="start" font-family="Liberation Serif, serif" letter-spacing="0.45">106.210</text>
<rect x="1195" y="289" width="10" height="1" fill="#ff0000" shape-rendering="crispEdges"/>
<text x="1462" y="120" font-size="20" fill="#00ff00" letter-spacing="2" font-family="Liberation Serif, Noto Serif CJK SC, serif" font-weight="300">多空转折点</text>
<polygon points="1424,25 1434,25 1429,30" fill="#c0c0c0"/>
<polygon points="0,36 3.3,31 6.6,36" fill="#000"/>
<text x="11.4" y="36" font-size="9.6" fill="#000" stroke="#000" stroke-width="0.3" text-anchor="start" font-family="Liberation Sans, sans-serif" textLength="63" lengthAdjust="spacing">USDJPY-,Daily</text>
<text x="81" y="36" font-size="9.6" fill="#000" stroke="#000" stroke-width="0.3" text-anchor="start" font-family="Liberation Sans, sans-serif" textLength="141" lengthAdjust="spacing">108.896 109.291 108.619 108.925</text>
<defs><linearGradient id="gb" x1="0" y1="0" x2="0" y2="1"><stop offset="0" stop-color="#4a4aee"/><stop offset="1" stop-color="#0404b4"/></linearGradient><linearGradient id="gs" x1="0" y1="0" x2="0" y2="1"><stop offset="0" stop-color="#5656f2"/><stop offset="1" stop-color="#4040e6"/></linearGradient><linearGradient id="gbtn" x1="0" y1="0" x2="0" y2="1"><stop offset="0" stop-color="#f4f4f4"/><stop offset="0.5" stop-color="#e4e4e4"/><stop offset="0.5" stop-color="#d6d6d6"/><stop offset="1" stop-color="#cdcdcd"/></linearGradient></defs>
<g>
<rect x="0" y="40" width="220" height="69" fill="#fff"/>
<rect x="0" y="44" width="51" height="24" fill="url(#gs)"/>
<rect x="166" y="44" width="52" height="24" fill="url(#gs)"/>
<rect x="0" y="68" width="108" height="40" fill="url(#gb)"/>
<rect x="110" y="68" width="108" height="40" fill="url(#gb)"/>
<rect x="0" y="44" width="51" height="24" fill="none"/>
<rect x="3" y="67.5" width="44" height="1" fill="#8484f4"/>
<rect x="170" y="67.5" width="44" height="1" fill="#8484f4"/>
<rect x="53.5" y="44.5" width="112" height="21" fill="#fff" stroke="#a8a8a8" stroke-width="1"/>
<rect x="54.5" y="45.5" width="19.5" height="19" fill="url(#gbtn)" stroke="#c4c4c4" stroke-width="1"/>
<rect x="143" y="45.5" width="20.5" height="19" fill="url(#gbtn)" stroke="#c4c4c4" stroke-width="1"/>
<polygon points="61,53 66.6,53 63.8,56" fill="#5a6ac8"/>
<polygon points="150,56 155.6,56 152.8,53" fill="#5a6ac8"/>
<text x="138.5" y="58.8" font-size="11.6" text-anchor="end" fill="#000" font-family="Liberation Sans, sans-serif">1.00</text>
<text x="24" y="60" font-size="11.3" text-anchor="middle" fill="#fff" font-family="Liberation Sans, sans-serif">SELL</text>
<text x="191.2" y="60" font-size="11.3" text-anchor="middle" fill="#fff" font-family="Liberation Sans, sans-serif">BUY</text>
<text x="22.5" y="98.6" font-size="10.6" font-weight="bold" letter-spacing="0.9" fill="#fff" font-family="Liberation Sans, sans-serif">108</text>
<text x="45.5" y="99" font-size="32" fill="#fff" letter-spacing="-0.2" font-family="Liberation Sans, sans-serif">92</text>
<text x="86" y="82.6" font-size="11" font-weight="bold" fill="#fff" font-family="Liberation Sans, sans-serif">5</text>
<text x="132.5" y="98.6" font-size="10.6" font-weight="bold" letter-spacing="0.9" fill="#fff" font-family="Liberation Sans, sans-serif">108</text>
<text x="157" y="99" font-size="32" fill="#fff" letter-spacing="-0.2" font-family="Liberation Sans, sans-serif">94</text>
<text x="197.3" y="82.6" font-size="11" font-weight="bold" fill="#fff" font-family="Liberation Sans, sans-serif">2</text>
</g>
<g>
<rect x="-3.6" y="1.5" width="10" height="13" fill="#fff" stroke="#3a78c8" stroke-width="1.2"/>
<rect x="0" y="4" width="6" height="1" fill="#a8c4ee"/>
<rect x="0" y="6.5" width="6" height="1" fill="#a8c4ee"/>
<rect x="0" y="9" width="6" height="1" fill="#a8c4ee"/>
<rect x="0" y="11.5" width="6" height="1" fill="#a8c4ee"/>
<rect x="20" y="0.5" width="11" height="12.5" fill="#fdfdfd" stroke="#b8b8b8" stroke-width="1"/>
<path d="M22.5,2 V8 M28.5,2 V8 M22.5,4.5 H28.5" stroke="#707070" stroke-width="1" fill="none"/>
<line x1="31" y1="12" x2="36" y2="16.5" stroke="#c89a20" stroke-width="2.4" stroke-linecap="round"/>
<circle cx="27.5" cy="8.5" r="4.6" fill="#cfdcf0" fill-opacity="0.8" stroke="#7ea4dc" stroke-width="1.3"/>
<rect x="44" y="0" width="1" height="18" fill="#a0a0a0" shape-rendering="crispEdges"/>
<path d="M54.5,0.5 H62 L66,4.5 V13.5 H54.5 Z" fill="#fbfbfb" stroke="#8c8c8c" stroke-width="1"/>
<path d="M57,3.5 H60 M57,6.5 H63 M57,9 H61" stroke="#909090" stroke-width="1"/>
<path d="M62.3,7 H65.7 V10.8 H69.5 V14.2 H65.7 V18 H62.3 V14.2 H58.5 V10.8 H62.3 Z" fill="#22c422" stroke="#0f8f0f" stroke-width="0.8"/>
<text x="72.6" y="11.9" font-size="12.2" fill="#000" font-weight="500" font-family="Liberation Sans, Noto Sans CJK SC, sans-serif">新订单</text>
<polygon points="121,9.5 127,1 137.5,7.5 131,16" fill="#e8b838" stroke="#b07a10" stroke-width="1"/>
<polygon points="121,9.5 131,16 130.5,13.5 122.5,8.5" fill="#f6dc8a"/>
<rect x="151.5" y="-1" width="10" height="10" fill="#4a9cf0" stroke="#2a70c8" stroke-width="1"/>
<rect x="154" y="2.5" width="6" height="1.2" fill="#dff"/>
<path d="M152,15.5 a3.2,3.2 0 0 1 0.5,-6.3 a4.2,4.2 0 0 1 8,-0.5 a3.4,3.4 0 0 1 2,6.8 Z" fill="#eef3fb" stroke="#7a98c8" stroke-width="1.1"/>
<circle cx="185" cy="7.5" r="7" fill="none" stroke="#9ab8e0" stroke-width="1.2"/>
<circle cx="185" cy="7.5" r="4.4" fill="none" stroke="#6a94d8" stroke-width="1.2"/>
<path d="M185.5,15.5 a8,8 0 0 0 6.5,-8" fill="none" stroke="#48b048" stroke-width="1.6"/>
<circle cx="185" cy="7.5" r="1.8" fill="#2858c8"/>
<rect x="184.6" y="8" width="1.4" height="8" fill="#28a828"/>
<polygon points="205,5 220,5 212.5,15.5" fill="#f8d848" stroke="#c89818" stroke-width="0.8"/>
<ellipse cx="212" cy="4.2" rx="8" ry="2.6" fill="#58a8e0" stroke="#2a78b8" stroke-width="0.8"/>
<ellipse cx="212" cy="1.5" rx="3.6" ry="3" fill="#68b4e8"/>
<circle cx="216.5" cy="11.5" r="4.2" fill="#e02810"/>
<rect x="214.8" y="9.8" width="3.4" height="3.4" fill="#fff"/>
<text x="225" y="11.9" font-size="12.2" fill="#000" font-weight="500" font-family="Liberation Sans, Noto Sans CJK SC, sans-serif">自动交易</text>
<rect x="280" y="0" width="1" height="18" fill="#a0a0a0" shape-rendering="crispEdges"/>
<rect x="283" y="1" width="4" height="1" fill="#b0b0b0" shape-rendering="crispEdges"/>
<rect x="283" y="3" width="4" height="1" fill="#b0b0b0" shape-rendering="crispEdges"/>
<rect x="283" y="5" width="4" height="1" fill="#b0b0b0" shape-rendering="crispEdges"/>
<rect x="283" y="7" width="4" height="1" fill="#b0b0b0" shape-rendering="crispEdges"/>
<rect x="283" y="9" width="4" height="1" fill="#b0b0b0" shape-rendering="crispEdges"/>
<rect x="283" y="11" width="4" height="1" fill="#b0b0b0" shape-rendering="crispEdges"/>
<rect x="283" y="13" width="4" height="1" fill="#b0b0b0" shape-rendering="crispEdges"/>
<rect x="283" y="15" width="4" height="1" fill="#b0b0b0" shape-rendering="crispEdges"/>
<rect x="283" y="17" width="4" height="1" fill="#b0b0b0" shape-rendering="crispEdges"/>
<path d="M298.5,2 V15.5 M295.5,13.5 H309 M296.5,4 L298.5,1.5 L300.5,4 M307,11.5 L309.5,13.5 L307,15.5" stroke="#505050" stroke-width="1" fill="none"/>
<path d="M305.5,4 V11 M305.5,4.5 H308 M303,10.5 H305.5" stroke="#18a028" stroke-width="1.4" fill="none"/>
<rect x="318" y="0" width="1" height="18" fill="#a0a0a0" shape-rendering="crispEdges"/>
<rect x="319" y="0" width="24" height="18" fill="#f8f8f8"/>
<path d="M326.5,2 V15.5 M323.5,13.5 H337 M324.5,4 L326.5,1.5 L328.5,4 M335,11.5 L337.5,13.5 L335,15.5" stroke="#505050" stroke-width="1" fill="none"/>
<rect x="332" y="0" width="1.2" height="11.5" fill="#108018"/>
<rect x="330.5" y="2.5" width="4.5" height="7" fill="#28d838" stroke="#108018" stroke-width="0.8"/>
<path d="M354.5,2 V15.5 M351.5,13.5 H365 M352.5,4 L354.5,1.5 L356.5,4 M363,11.5 L365.5,13.5 L363,15.5" stroke="#505050" stroke-width="1" fill="none"/>
<path d="M353,11 Q359,1 366,9" stroke="#18a028" stroke-width="1.3" fill="none"/>
<rect x="375" y="0" width="1" height="18" fill="#a0a0a0" shape-rendering="crispEdges"/>
<line x1="394" y1="10" x2="399" y2="14.5" stroke="#d4aa28" stroke-width="2.6" stroke-linecap="round"/>
<circle cx="390" cy="6" r="5" fill="#dce8f8" stroke="#4a88d8" stroke-width="1.4"/>
<rect x="387" y="5.3" width="6" height="1.5" fill="#2868c8"/>
<rect x="389.25" y="3" width="1.5" height="6" fill="#2868c8"/>
<line x1="422" y1="10" x2="427" y2="14.5" stroke="#d4aa28" stroke-width="2.6" stroke-linecap="round"/>
<circle cx="418" cy="6" r="5" fill="#dce8f8" stroke="#4a88d8" stroke-width="1.4"/>
<rect x="415" y="5.3" width="6" height="1.5" fill="#2868c8"/>
<rect x="440" y="0" width="7.8" height="7.5" fill="#48a028"/>
<rect x="441.3" y="3.2" width="5.2" height="3" fill="#f0f4f8"/>
<rect x="448.5" y="0" width="7.8" height="7.5" fill="#2860d0"/>
<rect x="449.8" y="3.2" width="5.2" height="3" fill="#f0f4f8"/>
<rect x="440" y="8" width="7.8" height="7.5" fill="#2860d0"/>
<rect x="441.3" y="11.2" width="5.2" height="3" fill="#f0f4f8"/>
<rect x="448.5" y="8" width="7.8" height="7.5" fill="#48a028"/>
<rect x="449.8" y="11.2" width="5.2" height="3" fill="#f0f4f8"/>
<rect x="465" y="0" width="1" height="18" fill="#a0a0a0" shape-rendering="crispEdges"/>
<rect x="470" y="0" width="1" height="18" fill="#a0a0a0" shape-rendering="crispEdges"/>
<rect x="471" y="0" width="24" height="18" fill="#f8f8f8"/>
<path d="M478.5,2 V15.5 M475.5,13.5 H489 M476.5,4 L478.5,1.5 L480.5,4 M487,11.5 L489.5,13.5 L487,15.5" stroke="#505050" stroke-width="1" fill="none"/>
<polygon points="483.5,4 483.5,10.5 487.5,7.2" fill="#d8f8d8" stroke="#18a028" stroke-width="1"/>
<rect x="498" y="0" width="1" height="18" fill="#a0a0a0" shape-rendering="crispEdges"/>
<rect x="499" y="0" width="24" height="18" fill="#f8f8f8"/>
<path d="M506.5,2 V15.5 M503.5,13.5 H517 M504.5,4 L506.5,1.5 L508.5,4 M515,11.5 L517.5,13.5 L515,15.5" stroke="#505050" stroke-width="1" fill="none"/>
<rect x="512" y="2" width="1.2" height="10" fill="#2060c0"/>
<path d="M518.5,7.5 H514 M516,5.5 L513.8,7.5 L516,9.5" stroke="#e04010" stroke-width="1.2" fill="none"/>
<rect x="527" y="0" width="1" height="18" fill="#a0a0a0" shape-rendering="crispEdges"/>
<path d="M537.5,1 H544.5 L548.5,5 V13 H537.5 Z" fill="#fbfbfb" stroke="#8c8c8c" stroke-width="1"/>
<path d="M540.5,4 V9.5 M540.5,6 H543" stroke="#606060" stroke-width="1" fill="none"/>
<path d="M545.3,6 H548.7 V9.8 H552.5 V13.2 H548.7 V17 H545.3 V13.2 H541.5 V9.8 H545.3 Z" fill="#22c422" stroke="#0f8f0f" stroke-width="0.8"/>
<polygon points="558.5,7 564.5,7 561.5,10.5" fill="#000"/>
<circle cx="583" cy="8" r="6.6" fill="#fafcff" stroke="#2a6cd8" stroke-width="2.2"/>
<path d="M583,4 V8.5 H586" stroke="#505050" stroke-width="1.1" fill="none"/>
<polygon points="597.5,7 603.5,7 600.5,10.5" fill="#000"/>
<rect x="614.5" y="1.5" width="15.5" height="13" fill="#fff" stroke="#3a78d8" stroke-width="1.4"/>
<rect x="614.5" y="1.5" width="15.5" height="2.2" fill="#3a78d8"/>
<path d="M616.5,7.5 L620,6.5 L623,7 L628,5.5" stroke="#c02818" stroke-width="1.1" fill="none"/>
<path d="M616.5,12.5 L620,11 L622.5,12.5 L625,10.5 L628,12" stroke="#18a028" stroke-width="1.1" fill="none"/>
<rect x="615" y="8.8" width="14.5" height="0.8" fill="#8ab0e8"/>
<polygon points="636.5,7 642.5,7 639.5,10.5" fill="#000"/>
<rect x="648" y="0" width="1" height="18" fill="#a0a0a0" shape-rendering="crispEdges"/>
<rect x="651" y="1" width="4" height="1" fill="#b0b0b0" shape-rendering="crispEdges"/>
<rect x="651" y="3" width="4" height="1" fill="#b0b0b0" shape-rendering="crispEdges"/>
<rect x="651" y="5" width="4" height="1" fill="#b0b0b0" shape-rendering="crispEdges"/>
<rect x="651" y="7" width="4" height="1" fill="#b0b0b0" shape-rendering="crispEdges"/>
<rect x="651" y="9" width="4" height="1" fill="#b0b0b0" shape-rendering="crispEdges"/>
<rect x="651" y="11" width="4" height="1" fill="#b0b0b0" shape-rendering="crispEdges"/>
<rect x="651" y="13" width="4" height="1" fill="#b0b0b0" shape-rendering="crispEdges"/>
<rect x="651" y="15" width="4" height="1" fill="#b0b0b0" shape-rendering="crispEdges"/>
<rect x="651" y="17" width="4" height="1" fill="#b0b0b0" shape-rendering="crispEdges"/>
<rect x="658" y="0" width="1" height="18" fill="#a0a0a0" shape-rendering="crispEdges"/>
<rect x="659" y="0" width="24" height="18" fill="#f8f8f8"/>
<polygon points="666,1.2 666,12.3 668.7,10 671,14.8 673,13.9 670.8,9.2 674.5,9" fill="#404040"/>
<path d="M691,8.5 H706 M698.5,1.5 V15.5" stroke="#404040" stroke-width="1" shape-rendering="crispEdges"/>
<rect x="698" y="8" width="1" height="1" fill="#f0f0f0"/>
<rect x="715" y="0" width="1" height="18" fill="#a0a0a0" shape-rendering="crispEdges"/>
<rect x="732" y="2" width="1" height="13" fill="#404040" shape-rendering="crispEdges"/>
<rect x="755" y="8" width="12" height="1" fill="#404040" shape-rendering="crispEdges"/>
<line x1="783" y1="15" x2="795" y2="3" stroke="#404040" stroke-width="1.1"/>
<path d="M808,10 L820,1 M809.5,14 L822,5 M811,9 V13.5 M814,7 V11.5 M817,4.5 V9 M820,2.5 V6.5" stroke="#404040" stroke-width="0.9" fill="none"/>
<text x="819.5" y="17" font-size="7.5" font-weight="bold" fill="#404040" font-family="Liberation Sans, sans-serif">E</text>
<line x1="837.5" y1="1.5" x2="851.5" y2="1.5" stroke="#404040" stroke-width="1" stroke-dasharray="1 1"/>
<line x1="837.5" y1="4.5" x2="851.5" y2="4.5" stroke="#404040" stroke-width="1" stroke-dasharray="1 1"/>
<line x1="837.5" y1="8.5" x2="851.5" y2="8.5" stroke="#404040" stroke-width="1" stroke-dasharray="1 1"/>
<line x1="837.5" y1="12.5" x2="846" y2="12.5" stroke="#404040" stroke-width="1" stroke-dasharray="1 1"/>
<text x="847.5" y="17" font-size="7.5" font-weight="bold" fill="#404040" font-family="Liberation Sans, sans-serif">F</text>
<text x="872.5" y="12.8" font-size="12.5" font-weight="bold" text-anchor="middle" fill="#585858" font-family="Liberation Sans, sans-serif">A</text>
<rect x="895" y="2" width="12" height="12.5" fill="none" stroke="#404040" stroke-width="1" stroke-dasharray="1 1"/>
<text x="901" y="12.6" font-size="11.5" font-weight="bold" text-anchor="middle" fill="#585858" font-family="Liberation Sans, sans-serif">T</text>
<polygon points="925.5,1.5 928.5,4.8 925.5,6.5 922.5,4.8" fill="#404040"/>
<polygon points="932.5,14.5 935.5,11 932.5,9.5 929.5,11" fill="#404040"/>
<path d="M924.5,8.5 L926.5,11 L931.5,5.5" stroke="#404040" stroke-width="1.3" fill="none"/>
<polygon points="942.5,7 948.5,7 945.5,10.5" fill="#000"/>
<rect x="954" y="0" width="1" height="18" fill="#a0a0a0" shape-rendering="crispEdges"/>
<rect x="957" y="1" width="4" height="1" fill="#b0b0b0" shape-rendering="crispEdges"/>
<rect x="957" y="3" width="4" height="1" fill="#b0b0b0" shape-rendering="crispEdges"/>
<rect x="957" y="5" width="4" height="1" fill="#b0b0b0" shape-rendering="crispEdges"/>
<rect x="957" y="7" width="4" height="1" fill="#b0b0b0" shape-rendering="crispEdges"/>
<rect x="957" y="9" width="4" height="1" fill="#b0b0b0" shape-rendering="crispEdges"/>
<rect x="957" y="11" width="4" height="1" fill="#b0b0b0" shape-rendering="crispEdges"/>
<rect x="957" y="13" width="4" height="1" fill="#b0b0b0" shape-rendering="crispEdges"/>
<rect x="957" y="15" width="4" height="1" fill="#b0b0b0" shape-rendering="crispEdges"/>
<rect x="957" y="17" width="4" height="1" fill="#b0b0b0" shape-rendering="crispEdges"/>
<text x="969.5" y="11.8" font-size="9" fill="#404040" font-family="Liberation Sans, sans-serif">M1</text>
<text x="997.5" y="11.8" font-size="9" fill="#404040" font-family="Liberation Sans, sans-serif">M5</text>
<text x="1023.5" y="11.8" font-size="9" fill="#404040" font-family="Liberation Sans, sans-serif">M15</text>
<text x="1051.5" y="11.8" font-size="9" fill="#404040" font-family="Liberation Sans, sans-serif">M30</text>
<text x="1082.5" y="11.8" font-size="9" fill="#404040" font-family="Liberation Sans, sans-serif">H1</text>
<text x="1110" y="11.8" font-size="9" fill="#404040" font-family="Liberation Sans, sans-serif">H4</text>
<text x="1166" y="11.8" font-size="9" fill="#404040" font-family="Liberation Sans, sans-serif">W1</text>
<text x="1192.5" y="11.8" font-size="9" fill="#404040" font-family="Liberation Sans, sans-serif">MN</text>
<rect x="1132" y="0" width="1" height="18" fill="#a0a0a0" shape-rendering="crispEdges"/>
<rect x="1133" y="0" width="24" height="18" fill="#f8f8f8"/>
<text x="1138.5" y="11.8" font-size="9" fill="#404040" font-family="Liberation Sans, sans-serif">D1</text>
<rect x="1215" y="0" width="1" height="18" fill="#a0a0a0" shape-rendering="crispEdges"/>
<line x1="1682.8" y1="8.3" x2="1678" y2="12.8" stroke="#2458c8" stroke-width="2.6" stroke-linecap="round"/>
<circle cx="1685.7" cy="5.5" r="3.8" fill="#f4f6ff" stroke="#2a5fd0" stroke-width="1.3"/>
<path d="M1702.3,10 a5.2,4.6 0 1 1 5,4.4 L1705.3,16.6 L1705.6,13.6 a5,4.5 0 0 1 -3.3,-3.6 Z" fill="#e4e4f0" stroke="#a8a8a8" stroke-width="1"/>
<circle cx="1716.5" cy="5" r="8.2" fill="#e03418"/>
<text x="1716.3" y="9.8" font-size="13" font-weight="bold" text-anchor="middle" fill="#fff" font-family="Liberation Serif, serif">1</text>
</g>
</svg>
</body></html>
